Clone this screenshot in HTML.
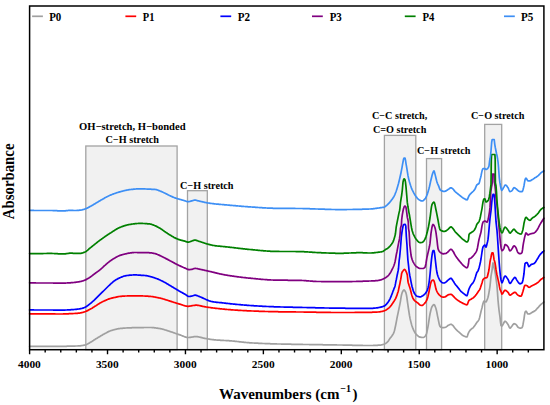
<!DOCTYPE html>
<html><head><meta charset="utf-8"><style>html,body{margin:0;padding:0;background:#fff;width:550px;height:405px;overflow:hidden}svg{display:block}text{font-family:"Liberation Serif",serif;font-weight:bold;fill:#000}</style></head><body>
<svg width="550" height="405" viewBox="0 0 550 405">
<rect x="85.8" y="146" width="91.3" height="203.7" fill="#f1f1f1" stroke="#a3a3a3" stroke-width="1.3"/>
<rect x="187.5" y="190.7" width="19.8" height="159.0" fill="#f1f1f1" stroke="#a3a3a3" stroke-width="1.3"/>
<rect x="384.4" y="135.4" width="31.4" height="214.3" fill="#f1f1f1" stroke="#a3a3a3" stroke-width="1.3"/>
<rect x="426.5" y="158.6" width="15.1" height="191.1" fill="#f1f1f1" stroke="#a3a3a3" stroke-width="1.3"/>
<rect x="484.7" y="124.4" width="17.0" height="225.3" fill="#f1f1f1" stroke="#a3a3a3" stroke-width="1.3"/>
<polyline fill="none" stroke="#a0a0a0" stroke-width="1.7" stroke-linejoin="round" stroke-linecap="round" points="29.6,346.3 30.1,346.3 30.6,346.3 31.1,346.3 31.6,346.3 32.1,346.3 32.6,346.3 33.1,346.3 33.6,346.3 34.1,346.3 34.6,346.3 35.0,346.3 35.5,346.3 36.0,346.3 36.5,346.3 37.0,346.3 37.5,346.3 38.0,346.3 38.5,346.3 39.0,346.3 39.5,346.3 40.0,346.3 40.5,346.3 41.0,346.3 41.5,346.3 42.0,346.3 42.5,346.3 43.0,346.3 43.5,346.3 44.0,346.3 44.5,346.3 45.0,346.3 45.5,346.3 46.0,346.3 46.5,346.3 47.0,346.3 47.5,346.3 48.0,346.3 48.5,346.3 49.0,346.3 49.5,346.3 50.0,346.3 50.5,346.3 51.0,346.3 51.5,346.3 52.0,346.3 52.5,346.3 53.0,346.3 53.5,346.3 54.0,346.3 54.5,346.3 55.0,346.3 55.5,346.3 56.0,346.3 56.5,346.3 57.0,346.3 57.5,346.3 58.0,346.3 58.5,346.3 59.0,346.3 59.5,346.3 60.0,346.3 60.5,346.3 61.0,346.3 61.5,346.3 62.0,346.3 62.5,346.3 63.0,346.3 63.5,346.3 64.0,346.3 64.5,346.3 65.0,346.3 65.5,346.3 66.0,346.3 66.5,346.3 67.0,346.2 67.5,346.2 68.0,346.2 68.5,346.2 69.0,346.2 69.5,346.2 70.0,346.2 70.5,346.2 71.0,346.2 71.5,346.2 72.0,346.2 72.5,346.1 73.0,346.1 73.5,346.1 74.0,346.1 74.5,346.1 75.0,346.1 75.5,346.0 76.0,346.0 76.5,346.0 77.0,346.0 77.5,346.0 78.0,345.9 78.5,345.9 79.0,345.9 79.5,345.8 80.0,345.8 80.5,345.8 81.0,345.7 81.5,345.7 82.0,345.6 82.5,345.5 83.0,345.4 83.5,345.3 84.0,345.2 84.5,345.1 85.0,345.0 85.5,344.9 86.0,344.7 86.5,344.5 87.0,344.2 87.5,344.0 88.0,343.7 88.5,343.4 89.0,343.2 89.5,342.9 90.0,342.6 90.5,342.3 91.0,342.0 91.5,341.7 92.0,341.4 92.5,341.0 93.0,340.7 93.5,340.4 94.0,340.0 94.5,339.7 95.0,339.4 95.5,339.1 96.0,338.8 96.5,338.5 97.0,338.2 97.5,337.9 98.0,337.6 98.5,337.3 99.0,337.0 99.5,336.7 100.0,336.4 100.5,336.1 101.0,335.8 101.5,335.5 102.0,335.2 102.5,334.9 103.0,334.6 103.5,334.3 104.0,334.1 104.5,333.8 105.0,333.5 105.5,333.2 106.0,333.0 106.5,332.7 107.0,332.4 107.5,332.1 108.0,331.9 108.5,331.6 109.0,331.4 109.5,331.2 110.0,331.0 110.5,330.8 111.0,330.6 111.5,330.5 112.0,330.3 112.5,330.2 113.0,330.0 113.5,329.9 114.0,329.7 114.5,329.6 115.0,329.5 115.5,329.4 116.0,329.3 116.5,329.1 117.0,329.0 117.5,328.9 118.0,328.8 118.5,328.7 119.0,328.6 119.5,328.6 120.0,328.5 120.5,328.4 121.0,328.4 121.5,328.3 122.0,328.3 122.5,328.3 123.0,328.2 123.5,328.2 124.0,328.1 124.5,328.1 125.0,328.1 125.5,328.0 126.0,328.0 126.5,328.0 127.0,327.9 127.5,327.9 128.0,327.9 128.5,327.9 129.0,327.8 129.5,327.8 130.0,327.8 130.5,327.8 131.0,327.8 131.5,327.8 132.0,327.7 132.5,327.7 133.0,327.7 133.5,327.7 134.0,327.7 134.5,327.7 135.0,327.7 135.5,327.7 136.0,327.7 136.5,327.7 137.0,327.6 137.5,327.6 138.0,327.6 138.5,327.6 139.0,327.6 139.5,327.6 140.0,327.6 140.5,327.6 141.0,327.6 141.5,327.6 142.0,327.6 142.5,327.6 143.0,327.6 143.5,327.6 144.0,327.5 144.5,327.5 145.0,327.5 145.5,327.5 146.0,327.5 146.5,327.5 147.0,327.5 147.5,327.5 148.0,327.5 148.5,327.5 149.0,327.5 149.5,327.5 150.0,327.5 150.5,327.5 151.0,327.5 151.5,327.5 152.0,327.6 152.5,327.6 153.0,327.6 153.5,327.7 154.0,327.7 154.5,327.8 155.0,327.9 155.5,327.9 156.0,328.0 156.5,328.1 157.0,328.1 157.5,328.2 158.0,328.3 158.5,328.4 159.0,328.4 159.5,328.5 160.0,328.6 160.5,328.7 161.0,328.8 161.5,328.9 162.0,329.0 162.5,329.1 163.0,329.3 163.5,329.4 164.0,329.5 164.5,329.7 165.0,329.9 165.5,330.0 166.0,330.2 166.5,330.3 167.0,330.5 167.5,330.7 168.0,330.8 168.5,331.0 169.0,331.2 169.5,331.3 170.0,331.5 170.5,331.7 171.0,331.8 171.5,332.0 172.0,332.1 172.5,332.3 173.0,332.5 173.5,332.7 174.0,332.8 174.5,333.0 175.0,333.2 175.5,333.4 176.0,333.5 176.5,333.7 177.0,333.9 177.5,334.0 178.0,334.2 178.5,334.4 179.0,334.6 179.5,334.7 180.0,334.9 180.5,335.1 181.0,335.3 181.5,335.5 182.0,335.7 182.5,335.9 183.0,336.1 183.5,336.3 184.0,336.5 184.5,336.7 185.0,336.9 185.5,337.1 186.0,337.2 186.5,337.3 187.0,337.4 187.5,337.5 188.0,337.5 188.5,337.5 189.0,337.5 189.5,337.4 190.0,337.4 190.5,337.3 191.0,337.2 191.5,337.1 192.0,337.1 192.5,337.0 193.0,336.9 193.5,336.8 194.0,336.7 194.5,336.7 195.0,336.6 195.5,336.6 196.0,336.6 196.5,336.6 197.0,336.6 197.5,336.7 198.0,336.8 198.5,336.9 199.0,337.0 199.5,337.1 200.0,337.2 200.5,337.3 201.0,337.4 201.5,337.6 202.0,337.7 202.5,337.8 203.0,338.0 203.5,338.1 204.0,338.2 204.5,338.3 205.0,338.4 205.5,338.5 206.0,338.6 206.5,338.7 207.0,338.7 207.5,338.8 208.0,338.9 208.5,339.0 209.0,339.1 209.5,339.2 210.0,339.3 210.5,339.3 211.0,339.4 211.5,339.5 212.0,339.6 212.5,339.6 213.0,339.7 213.5,339.7 214.0,339.8 214.5,339.9 215.0,339.9 215.5,339.9 216.0,340.0 216.5,340.0 217.0,340.1 217.5,340.1 218.0,340.1 218.5,340.2 219.0,340.2 219.5,340.2 220.0,340.2 220.5,340.3 221.0,340.3 221.5,340.3 222.0,340.4 222.5,340.4 223.0,340.4 223.5,340.4 224.0,340.5 224.5,340.5 225.0,340.5 225.5,340.5 226.0,340.6 226.5,340.6 227.0,340.6 227.5,340.6 228.0,340.7 228.5,340.7 229.0,340.7 229.5,340.8 230.0,340.8 230.5,340.8 231.0,340.9 231.5,340.9 232.0,341.0 232.5,341.0 233.0,341.1 233.5,341.1 234.0,341.2 234.5,341.2 235.0,341.3 235.5,341.3 236.0,341.4 236.5,341.4 237.0,341.5 237.5,341.5 238.0,341.6 238.5,341.7 239.0,341.7 239.5,341.8 240.0,341.8 240.5,341.9 241.0,341.9 241.5,342.0 242.0,342.1 242.5,342.1 243.0,342.2 243.5,342.2 244.0,342.3 244.5,342.3 245.0,342.4 245.5,342.4 246.0,342.5 246.5,342.5 247.0,342.6 247.5,342.6 248.0,342.7 248.5,342.7 249.0,342.7 249.5,342.8 250.0,342.8 250.5,342.8 251.0,342.9 251.5,342.9 252.0,342.9 252.5,343.0 253.0,343.0 253.5,343.0 254.0,343.0 254.5,343.1 255.0,343.1 255.5,343.1 256.0,343.1 256.5,343.2 257.0,343.2 257.5,343.2 258.0,343.2 258.5,343.3 259.0,343.3 259.5,343.3 260.0,343.3 260.5,343.4 261.0,343.4 261.5,343.4 262.0,343.4 262.5,343.5 263.0,343.5 263.5,343.5 264.0,343.5 264.5,343.5 265.0,343.6 265.5,343.6 266.0,343.6 266.5,343.6 267.0,343.6 267.5,343.7 268.0,343.7 268.5,343.7 269.0,343.7 269.5,343.7 270.0,343.7 270.5,343.8 271.0,343.8 271.5,343.8 272.0,343.8 272.5,343.8 273.0,343.8 273.5,343.9 274.0,343.9 274.5,343.9 275.0,343.9 275.5,343.9 276.0,343.9 276.5,343.9 277.0,344.0 277.5,344.0 278.0,344.0 278.5,344.0 279.0,344.0 279.5,344.0 280.0,344.0 280.5,344.0 281.0,344.0 281.5,344.1 282.0,344.1 282.5,344.1 283.0,344.1 283.5,344.1 284.0,344.1 284.5,344.1 285.0,344.1 285.5,344.1 286.0,344.2 286.5,344.2 287.0,344.2 287.5,344.2 288.0,344.2 288.5,344.2 289.0,344.2 289.5,344.2 290.0,344.2 290.5,344.2 291.0,344.2 291.5,344.3 292.0,344.3 292.5,344.3 293.0,344.3 293.5,344.3 294.0,344.3 294.5,344.3 295.0,344.3 295.5,344.3 296.0,344.3 296.5,344.3 297.0,344.3 297.5,344.4 298.0,344.4 298.5,344.4 299.0,344.4 299.5,344.4 300.0,344.4 300.5,344.4 301.0,344.4 301.5,344.4 302.0,344.4 302.5,344.4 303.0,344.5 303.5,344.5 304.0,344.5 304.5,344.5 305.0,344.5 305.5,344.5 306.0,344.5 306.5,344.5 307.0,344.5 307.5,344.5 308.0,344.5 308.5,344.5 309.0,344.5 309.5,344.6 310.0,344.6 310.5,344.6 311.0,344.6 311.5,344.6 312.0,344.6 312.5,344.6 313.0,344.6 313.5,344.6 314.0,344.6 314.5,344.6 315.0,344.6 315.5,344.6 316.0,344.7 316.5,344.7 317.0,344.7 317.5,344.7 318.0,344.7 318.5,344.7 319.0,344.7 319.5,344.7 320.0,344.7 320.5,344.7 321.0,344.7 321.5,344.7 322.0,344.7 322.5,344.7 323.0,344.8 323.5,344.8 324.0,344.8 324.5,344.8 325.0,344.8 325.5,344.8 326.0,344.8 326.5,344.8 327.0,344.8 327.5,344.8 328.0,344.8 328.5,344.8 329.0,344.8 329.5,344.8 330.0,344.8 330.5,344.9 331.0,344.9 331.5,344.9 332.0,344.9 332.5,344.9 333.0,344.9 333.5,344.9 334.0,344.9 334.5,344.9 335.0,344.9 335.5,344.9 336.0,344.9 336.5,344.9 337.0,345.0 337.5,345.0 338.0,345.0 338.5,345.0 339.0,345.0 339.5,345.0 340.0,345.0 340.5,345.0 341.0,345.0 341.5,345.0 342.0,345.0 342.5,345.0 343.0,345.1 343.5,345.1 344.0,345.1 344.5,345.1 345.0,345.1 345.5,345.1 346.0,345.1 346.5,345.1 347.0,345.1 347.5,345.1 348.0,345.2 348.5,345.2 349.0,345.2 349.5,345.2 350.0,345.2 350.5,345.2 351.0,345.2 351.5,345.2 352.0,345.2 352.5,345.3 353.0,345.3 353.5,345.3 354.0,345.3 354.5,345.3 355.0,345.3 355.5,345.3 356.0,345.3 356.5,345.3 357.0,345.4 357.5,345.4 358.0,345.4 358.5,345.4 359.0,345.4 359.5,345.4 360.0,345.4 360.5,345.4 361.0,345.4 361.5,345.4 362.0,345.4 362.5,345.4 363.0,345.5 363.5,345.5 364.0,345.5 364.5,345.5 365.0,345.5 365.5,345.5 366.0,345.5 366.5,345.5 367.0,345.5 367.5,345.5 368.0,345.5 368.5,345.5 369.0,345.5 369.5,345.5 370.0,345.5 370.5,345.5 371.0,345.5 371.5,345.5 372.0,345.5 372.5,345.5 373.0,345.5 373.5,345.4 374.0,345.4 374.5,345.4 375.0,345.4 375.5,345.4 376.0,345.3 376.5,345.3 377.0,345.3 377.5,345.3 378.0,345.2 378.5,345.2 379.0,345.2 379.5,345.1 380.0,345.1 380.5,345.1 381.0,345.0 381.5,344.9 382.0,344.8 382.5,344.6 383.0,344.5 383.5,344.4 384.0,344.2 384.5,344.0 385.0,343.8 385.5,343.5 386.0,343.2 386.5,342.8 387.0,342.4 387.5,341.9 388.0,341.4 388.5,340.7 389.0,339.9 389.5,339.1 390.0,338.3 390.5,337.7 391.0,337.1 391.5,336.5 392.0,335.8 392.5,335.0 393.0,334.2 393.5,333.3 394.0,332.1 394.5,330.5 395.0,328.3 395.5,326.0 396.0,323.5 396.5,320.8 397.0,318.2 397.5,315.7 398.0,313.3 398.5,310.9 399.0,308.5 399.5,306.1 400.0,303.6 400.5,300.8 401.0,297.7 401.5,295.0 402.0,293.1 402.5,291.9 403.0,290.9 403.5,290.2 404.0,289.9 404.5,290.2 405.0,290.9 405.5,291.9 406.0,293.1 406.5,295.2 407.0,298.5 407.5,302.2 408.0,305.7 408.5,309.0 409.0,312.4 409.5,315.5 410.0,318.2 410.5,320.4 411.0,322.4 411.5,324.3 412.0,326.0 412.5,327.4 413.0,328.7 413.5,329.8 414.0,330.9 414.5,331.8 415.0,332.7 415.5,333.4 416.0,334.0 416.5,334.5 417.0,335.1 417.5,335.5 418.0,336.0 418.5,336.4 419.0,336.7 419.5,336.9 420.0,337.1 420.5,337.2 421.0,337.3 421.5,337.4 422.0,337.4 422.5,337.5 423.0,337.5 423.5,337.4 424.0,337.2 424.5,336.8 425.0,336.3 425.5,335.7 426.0,335.0 426.5,333.8 427.0,331.7 427.5,329.2 428.0,326.6 428.5,323.6 429.0,320.2 429.5,316.8 430.0,314.0 430.5,311.7 431.0,309.6 431.5,307.9 432.0,306.7 432.5,305.9 433.0,305.2 433.5,304.8 434.0,304.6 434.5,305.0 435.0,306.0 435.5,307.3 436.0,308.8 436.5,310.7 437.0,313.1 437.5,315.8 438.0,318.2 438.5,320.6 439.0,323.1 439.5,325.2 440.0,326.4 440.5,326.9 441.0,327.3 441.5,327.5 442.0,327.6 442.5,327.6 443.0,327.6 443.5,327.6 444.0,327.6 444.5,327.5 445.0,327.4 445.5,327.2 446.0,327.0 446.5,326.7 447.0,326.3 447.5,325.8 448.0,325.5 448.5,325.2 449.0,325.0 449.5,324.7 450.0,324.5 450.5,324.4 451.0,324.3 451.5,324.4 452.0,324.8 452.5,325.2 453.0,325.7 453.5,326.2 454.0,326.9 454.5,327.6 455.0,328.2 455.5,328.8 456.0,329.3 456.5,329.9 457.0,330.4 457.5,330.9 458.0,331.3 458.5,331.7 459.0,332.2 459.5,332.6 460.0,333.0 460.5,333.5 461.0,334.0 461.5,334.4 462.0,334.9 462.5,335.3 463.0,335.6 463.5,335.8 464.0,336.1 464.5,336.3 465.0,336.5 465.5,336.7 466.0,336.8 466.5,336.9 467.0,336.9 467.5,335.8 468.0,334.1 468.5,332.9 469.0,331.9 469.5,331.1 470.0,330.4 470.5,329.8 471.0,329.3 471.5,328.9 472.0,328.6 472.5,328.2 473.0,327.8 473.5,327.3 474.0,326.6 474.5,325.9 475.0,325.2 475.5,324.5 476.0,323.7 476.5,322.9 477.0,322.2 477.5,321.6 478.0,321.1 478.5,320.4 479.0,319.6 479.5,318.0 480.0,315.9 480.5,313.7 481.0,311.5 481.5,309.6 482.0,307.8 482.5,305.5 483.0,303.5 483.5,301.9 484.0,301.0 484.5,301.2 485.0,301.5 485.5,301.8 486.0,302.0 486.5,301.3 487.0,300.0 487.5,298.8 488.0,297.3 488.5,295.1 489.0,292.4 489.5,289.5 490.0,286.1 490.5,281.0 491.0,276.1 491.5,273.3 492.0,270.6 492.5,265.9 493.0,262.8 493.5,264.4 494.0,267.2 494.5,269.3 495.0,271.7 495.5,274.8 496.0,278.3 496.5,281.8 497.0,286.1 497.5,292.8 498.0,300.0 498.5,305.4 499.0,310.0 499.5,313.7 500.0,317.2 500.5,322.2 501.0,325.5 501.5,325.9 502.0,326.0 502.5,325.4 503.0,324.4 503.5,323.5 504.0,322.5 504.5,321.6 505.0,321.3 505.5,321.4 506.0,321.8 506.5,322.4 507.0,323.1 507.5,323.8 508.0,324.5 508.5,325.4 509.0,326.6 509.5,327.7 510.0,328.1 510.5,327.9 511.0,327.3 511.5,326.6 512.0,326.0 512.5,325.3 513.0,324.6 513.5,324.0 514.0,323.7 514.5,323.8 515.0,323.9 515.5,324.2 516.0,324.5 516.5,325.0 517.0,325.8 517.5,326.6 518.0,327.2 518.5,327.5 519.0,327.8 519.5,328.0 520.0,328.1 520.5,328.1 521.0,328.0 521.5,327.9 522.0,327.7 522.5,326.7 523.0,324.5 523.5,321.7 524.0,318.8 524.5,315.2 525.0,312.4 525.5,311.5 526.0,311.2 526.5,311.6 527.0,312.6 527.5,313.6 528.0,314.0 528.5,314.0 529.0,313.9 529.5,313.8 530.0,313.7 530.5,313.5 531.0,313.1 531.5,312.7 532.0,312.4 532.5,312.1 533.0,311.9 533.5,311.6 534.0,311.4 534.5,311.1 535.0,310.8 535.5,310.4 536.0,309.9 536.5,309.3 537.0,308.7 537.5,308.2 538.0,307.6 538.5,307.1 539.0,306.5 539.5,305.9 540.0,305.4 540.5,304.9 541.0,304.4 541.5,304.0 542.0,303.6 542.5,303.2 542.9,302.8 543.4,302.4 543.9,302.0"/>
<polyline fill="none" stroke="#ff0000" stroke-width="1.7" stroke-linejoin="round" stroke-linecap="round" points="29.6,313.8 30.1,313.8 30.6,313.8 31.1,313.8 31.6,313.8 32.1,313.8 32.6,313.8 33.1,313.8 33.6,313.8 34.1,313.9 34.6,313.9 35.0,313.9 35.5,313.9 36.0,313.9 36.5,313.9 37.0,313.9 37.5,313.9 38.0,313.9 38.5,313.9 39.0,313.9 39.5,313.9 40.0,313.9 40.5,313.9 41.0,313.9 41.5,313.9 42.0,313.9 42.5,313.9 43.0,313.9 43.5,313.9 44.0,313.9 44.5,313.9 45.0,313.9 45.5,313.9 46.0,313.9 46.5,313.9 47.0,313.9 47.5,313.9 48.0,313.9 48.5,313.9 49.0,313.9 49.5,313.9 50.0,313.9 50.5,313.9 51.0,313.9 51.5,313.9 52.0,313.9 52.5,313.9 53.0,313.9 53.5,313.9 54.0,313.9 54.5,313.9 55.0,313.9 55.5,314.0 56.0,314.0 56.5,314.0 57.0,314.0 57.5,314.0 58.0,314.0 58.5,314.0 59.0,314.0 59.5,314.0 60.0,314.0 60.5,314.0 61.0,314.0 61.5,314.0 62.0,314.0 62.5,314.0 63.0,314.0 63.5,313.9 64.0,313.9 64.5,313.9 65.0,313.9 65.5,313.9 66.0,313.9 66.5,313.8 67.0,313.8 67.5,313.8 68.0,313.8 68.5,313.8 69.0,313.7 69.5,313.7 70.0,313.7 70.5,313.7 71.0,313.7 71.5,313.6 72.0,313.6 72.5,313.6 73.0,313.6 73.5,313.5 74.0,313.5 74.5,313.5 75.0,313.4 75.5,313.4 76.0,313.4 76.5,313.3 77.0,313.3 77.5,313.3 78.0,313.2 78.5,313.2 79.0,313.1 79.5,313.1 80.0,313.0 80.5,312.9 81.0,312.8 81.5,312.7 82.0,312.6 82.5,312.5 83.0,312.3 83.5,312.2 84.0,312.0 84.5,311.9 85.0,311.7 85.5,311.5 86.0,311.3 86.5,311.1 87.0,310.9 87.5,310.6 88.0,310.4 88.5,310.1 89.0,309.8 89.5,309.6 90.0,309.3 90.5,309.0 91.0,308.7 91.5,308.5 92.0,308.2 92.5,307.9 93.0,307.5 93.5,307.2 94.0,306.9 94.5,306.6 95.0,306.3 95.5,306.0 96.0,305.7 96.5,305.3 97.0,305.0 97.5,304.7 98.0,304.3 98.5,304.0 99.0,303.7 99.5,303.4 100.0,303.1 100.5,302.8 101.0,302.6 101.5,302.3 102.0,302.0 102.5,301.8 103.0,301.5 103.5,301.3 104.0,301.1 104.5,300.8 105.0,300.6 105.5,300.4 106.0,300.2 106.5,299.9 107.0,299.7 107.5,299.5 108.0,299.3 108.5,299.1 109.0,298.9 109.5,298.8 110.0,298.6 110.5,298.5 111.0,298.3 111.5,298.2 112.0,298.1 112.5,297.9 113.0,297.8 113.5,297.7 114.0,297.6 114.5,297.5 115.0,297.4 115.5,297.3 116.0,297.2 116.5,297.1 117.0,296.9 117.5,296.8 118.0,296.7 118.5,296.6 119.0,296.5 119.5,296.5 120.0,296.4 120.5,296.4 121.0,296.3 121.5,296.3 122.0,296.2 122.5,296.2 123.0,296.2 123.5,296.1 124.0,296.1 124.5,296.1 125.0,296.0 125.5,296.0 126.0,296.0 126.5,296.0 127.0,296.0 127.5,295.9 128.0,295.9 128.5,295.9 129.0,295.9 129.5,295.9 130.0,295.9 130.5,295.9 131.0,295.9 131.5,295.9 132.0,295.9 132.5,295.9 133.0,295.9 133.5,295.9 134.0,295.9 134.5,295.9 135.0,295.9 135.5,295.9 136.0,295.9 136.5,295.9 137.0,295.9 137.5,295.9 138.0,295.9 138.5,295.9 139.0,295.9 139.5,295.9 140.0,295.9 140.5,295.9 141.0,295.9 141.5,295.9 142.0,295.9 142.5,295.9 143.0,296.0 143.5,296.0 144.0,296.0 144.5,296.0 145.0,296.1 145.5,296.1 146.0,296.1 146.5,296.1 147.0,296.2 147.5,296.2 148.0,296.2 148.5,296.3 149.0,296.3 149.5,296.4 150.0,296.4 150.5,296.4 151.0,296.5 151.5,296.5 152.0,296.6 152.5,296.7 153.0,296.7 153.5,296.8 154.0,296.9 154.5,297.0 155.0,297.1 155.5,297.2 156.0,297.3 156.5,297.4 157.0,297.5 157.5,297.6 158.0,297.7 158.5,297.8 159.0,297.9 159.5,298.0 160.0,298.1 160.5,298.2 161.0,298.3 161.5,298.5 162.0,298.6 162.5,298.7 163.0,298.9 163.5,299.0 164.0,299.2 164.5,299.3 165.0,299.5 165.5,299.7 166.0,299.8 166.5,300.0 167.0,300.1 167.5,300.3 168.0,300.5 168.5,300.6 169.0,300.8 169.5,300.9 170.0,301.1 170.5,301.3 171.0,301.4 171.5,301.6 172.0,301.7 172.5,301.9 173.0,302.0 173.5,302.2 174.0,302.4 174.5,302.5 175.0,302.7 175.5,302.8 176.0,303.0 176.5,303.2 177.0,303.3 177.5,303.5 178.0,303.6 178.5,303.8 179.0,303.9 179.5,304.1 180.0,304.2 180.5,304.3 181.0,304.5 181.5,304.7 182.0,304.8 182.5,305.0 183.0,305.2 183.5,305.4 184.0,305.5 184.5,305.7 185.0,305.8 185.5,306.0 186.0,306.1 186.5,306.2 187.0,306.2 187.5,306.3 188.0,306.3 188.5,306.3 189.0,306.2 189.5,306.2 190.0,306.1 190.5,306.0 191.0,305.9 191.5,305.8 192.0,305.7 192.5,305.6 193.0,305.5 193.5,305.5 194.0,305.4 194.5,305.3 195.0,305.3 195.5,305.2 196.0,305.2 196.5,305.2 197.0,305.2 197.5,305.3 198.0,305.3 198.5,305.4 199.0,305.5 199.5,305.6 200.0,305.7 200.5,305.8 201.0,305.9 201.5,306.1 202.0,306.2 202.5,306.3 203.0,306.4 203.5,306.5 204.0,306.6 204.5,306.7 205.0,306.8 205.5,306.9 206.0,307.0 206.5,307.0 207.0,307.1 207.5,307.2 208.0,307.3 208.5,307.3 209.0,307.4 209.5,307.5 210.0,307.5 210.5,307.6 211.0,307.7 211.5,307.8 212.0,307.8 212.5,307.9 213.0,308.0 213.5,308.0 214.0,308.1 214.5,308.1 215.0,308.2 215.5,308.3 216.0,308.3 216.5,308.4 217.0,308.4 217.5,308.5 218.0,308.5 218.5,308.6 219.0,308.7 219.5,308.7 220.0,308.8 220.5,308.8 221.0,308.9 221.5,308.9 222.0,309.0 222.5,309.0 223.0,309.1 223.5,309.1 224.0,309.2 224.5,309.2 225.0,309.3 225.5,309.3 226.0,309.4 226.5,309.4 227.0,309.5 227.5,309.5 228.0,309.5 228.5,309.6 229.0,309.6 229.5,309.7 230.0,309.7 230.5,309.7 231.0,309.8 231.5,309.8 232.0,309.8 232.5,309.9 233.0,309.9 233.5,310.0 234.0,310.0 234.5,310.0 235.0,310.1 235.5,310.1 236.0,310.1 236.5,310.2 237.0,310.2 237.5,310.2 238.0,310.3 238.5,310.3 239.0,310.3 239.5,310.4 240.0,310.4 240.5,310.4 241.0,310.4 241.5,310.5 242.0,310.5 242.5,310.5 243.0,310.6 243.5,310.6 244.0,310.6 244.5,310.6 245.0,310.7 245.5,310.7 246.0,310.7 246.5,310.7 247.0,310.8 247.5,310.8 248.0,310.8 248.5,310.8 249.0,310.9 249.5,310.9 250.0,310.9 250.5,310.9 251.0,310.9 251.5,311.0 252.0,311.0 252.5,311.0 253.0,311.0 253.5,311.0 254.0,311.1 254.5,311.1 255.0,311.1 255.5,311.1 256.0,311.1 256.5,311.2 257.0,311.2 257.5,311.2 258.0,311.2 258.5,311.2 259.0,311.3 259.5,311.3 260.0,311.3 260.5,311.3 261.0,311.3 261.5,311.3 262.0,311.4 262.5,311.4 263.0,311.4 263.5,311.4 264.0,311.4 264.5,311.4 265.0,311.5 265.5,311.5 266.0,311.5 266.5,311.5 267.0,311.5 267.5,311.5 268.0,311.5 268.5,311.6 269.0,311.6 269.5,311.6 270.0,311.6 270.5,311.6 271.0,311.6 271.5,311.6 272.0,311.6 272.5,311.7 273.0,311.7 273.5,311.7 274.0,311.7 274.5,311.7 275.0,311.7 275.5,311.7 276.0,311.7 276.5,311.7 277.0,311.7 277.5,311.7 278.0,311.7 278.5,311.8 279.0,311.8 279.5,311.8 280.0,311.8 280.5,311.8 281.0,311.8 281.5,311.8 282.0,311.8 282.5,311.8 283.0,311.8 283.5,311.8 284.0,311.8 284.5,311.8 285.0,311.8 285.5,311.8 286.0,311.9 286.5,311.9 287.0,311.9 287.5,311.9 288.0,311.9 288.5,311.9 289.0,311.9 289.5,311.9 290.0,311.9 290.5,311.9 291.0,311.9 291.5,311.9 292.0,311.9 292.5,311.9 293.0,311.9 293.5,311.9 294.0,311.9 294.5,311.9 295.0,311.9 295.5,311.9 296.0,312.0 296.5,312.0 297.0,312.0 297.5,312.0 298.0,312.0 298.5,312.0 299.0,312.0 299.5,312.0 300.0,312.0 300.5,312.0 301.0,312.0 301.5,312.0 302.0,312.0 302.5,312.0 303.0,312.0 303.5,312.0 304.0,312.1 304.5,312.1 305.0,312.1 305.5,312.1 306.0,312.1 306.5,312.1 307.0,312.1 307.5,312.1 308.0,312.1 308.5,312.1 309.0,312.1 309.5,312.1 310.0,312.1 310.5,312.2 311.0,312.2 311.5,312.2 312.0,312.2 312.5,312.2 313.0,312.2 313.5,312.2 314.0,312.2 314.5,312.2 315.0,312.2 315.5,312.2 316.0,312.2 316.5,312.3 317.0,312.3 317.5,312.3 318.0,312.3 318.5,312.3 319.0,312.3 319.5,312.3 320.0,312.3 320.5,312.3 321.0,312.3 321.5,312.3 322.0,312.3 322.5,312.3 323.0,312.4 323.5,312.4 324.0,312.4 324.5,312.4 325.0,312.4 325.5,312.4 326.0,312.4 326.5,312.4 327.0,312.4 327.5,312.4 328.0,312.4 328.5,312.4 329.0,312.4 329.5,312.4 330.0,312.4 330.5,312.4 331.0,312.5 331.5,312.5 332.0,312.5 332.5,312.5 333.0,312.5 333.5,312.5 334.0,312.5 334.5,312.5 335.0,312.5 335.5,312.5 336.0,312.5 336.5,312.5 337.0,312.5 337.5,312.5 338.0,312.5 338.5,312.5 339.0,312.5 339.5,312.5 340.0,312.5 340.5,312.5 341.0,312.5 341.5,312.5 342.0,312.5 342.5,312.5 343.0,312.5 343.5,312.5 344.0,312.5 344.5,312.5 345.0,312.5 345.5,312.5 346.0,312.5 346.5,312.5 347.0,312.5 347.5,312.5 348.0,312.5 348.5,312.5 349.0,312.5 349.5,312.5 350.0,312.5 350.5,312.5 351.0,312.5 351.5,312.5 352.0,312.5 352.5,312.5 353.0,312.5 353.5,312.5 354.0,312.5 354.5,312.5 355.0,312.4 355.5,312.4 356.0,312.4 356.5,312.4 357.0,312.4 357.5,312.4 358.0,312.4 358.5,312.4 359.0,312.4 359.5,312.4 360.0,312.4 360.5,312.4 361.0,312.4 361.5,312.4 362.0,312.4 362.5,312.4 363.0,312.4 363.5,312.4 364.0,312.4 364.5,312.4 365.0,312.4 365.5,312.4 366.0,312.3 366.5,312.3 367.0,312.3 367.5,312.3 368.0,312.3 368.5,312.3 369.0,312.3 369.5,312.3 370.0,312.3 370.5,312.3 371.0,312.3 371.5,312.3 372.0,312.3 372.5,312.2 373.0,312.2 373.5,312.2 374.0,312.2 374.5,312.2 375.0,312.2 375.5,312.1 376.0,312.1 376.5,312.1 377.0,312.1 377.5,312.0 378.0,312.0 378.5,312.0 379.0,311.9 379.5,311.8 380.0,311.8 380.5,311.7 381.0,311.6 381.5,311.5 382.0,311.4 382.5,311.3 383.0,311.2 383.5,311.0 384.0,310.9 384.5,310.7 385.0,310.5 385.5,310.3 386.0,310.0 386.5,309.7 387.0,309.3 387.5,309.0 388.0,308.6 388.5,308.2 389.0,307.8 389.5,307.3 390.0,306.8 390.5,306.2 391.0,305.6 391.5,305.0 392.0,304.3 392.5,303.6 393.0,302.8 393.5,302.0 394.0,301.2 394.5,300.5 394.9,299.7 395.4,298.9 395.9,298.0 396.3,296.9 396.8,295.7 397.2,294.4 397.6,293.1 398.1,291.7 398.5,290.1 398.9,288.0 399.4,285.7 399.9,283.6 400.3,281.4 400.7,279.4 401.1,277.1 401.6,273.6 402.1,272.3 402.5,271.5 402.9,271.0 403.3,270.6 403.9,269.8 404.4,269.4 405.0,269.8 405.6,270.6 406.1,271.6 406.7,273.0 407.3,275.0 407.9,281.0 408.3,283.0 408.8,284.5 409.2,285.8 409.8,287.6 410.4,289.5 411.0,292.0 411.6,294.4 412.0,295.8 412.5,297.1 412.9,298.1 413.4,299.1 414.0,299.9 414.5,300.5 415.0,301.0 415.5,301.4 416.0,301.7 416.5,302.0 417.0,302.4 417.5,302.7 418.0,303.1 418.5,303.6 419.0,304.2 419.5,304.7 420.0,305.0 420.5,305.2 421.0,305.3 421.5,305.5 422.0,305.5 422.5,305.4 423.0,305.0 423.5,304.5 424.0,304.0 424.5,303.5 425.0,302.9 425.5,302.2 426.0,301.4 426.5,300.5 427.0,299.5 427.5,298.1 428.0,296.2 428.5,294.0 429.0,291.7 429.5,289.2 430.0,286.6 430.5,284.1 431.0,282.2 431.5,281.1 432.0,280.5 432.5,280.2 433.0,280.0 433.5,280.3 434.0,281.0 434.5,282.6 435.0,284.8 435.5,287.0 436.0,289.1 436.5,290.5 437.0,291.7 437.5,292.6 438.0,293.4 438.5,294.0 439.0,294.6 439.5,295.1 440.0,295.5 440.5,296.0 441.0,296.4 441.5,296.8 442.0,297.0 442.5,297.0 443.0,297.1 443.5,297.1 444.0,297.1 444.5,297.0 445.0,296.9 445.5,296.6 446.0,296.4 446.5,296.1 447.0,295.6 447.5,295.2 448.0,294.9 448.5,294.7 449.0,294.6 449.5,294.5 450.0,294.4 450.5,294.3 451.0,294.3 451.5,294.5 452.0,294.9 452.5,295.4 453.0,295.9 453.5,296.4 454.0,296.9 454.5,297.5 455.0,298.0 455.5,298.4 456.0,298.9 456.5,299.3 457.0,299.7 457.5,300.0 458.0,300.4 458.5,300.7 459.0,301.1 459.5,301.4 460.0,301.7 460.5,302.0 461.0,302.3 461.5,302.6 462.0,302.8 462.5,303.1 463.0,303.4 463.5,303.6 464.0,303.8 464.5,304.0 465.0,304.2 465.5,304.5 466.0,304.6 466.5,304.8 467.0,304.8 467.5,304.2 468.0,302.8 468.5,301.4 469.0,300.4 469.5,300.0 470.0,299.7 470.5,299.5 471.0,299.2 471.5,298.9 472.0,298.6 472.5,298.3 473.0,298.0 473.5,297.6 474.0,297.1 474.5,296.6 475.0,296.1 475.5,295.5 476.0,294.9 476.5,294.3 477.0,293.6 477.5,292.8 478.0,292.0 478.5,291.3 479.0,290.6 479.5,289.9 480.0,289.0 480.5,287.6 481.0,286.0 481.5,284.5 482.0,283.0 482.5,281.1 483.0,279.6 483.5,279.0 484.0,278.5 484.5,278.2 485.0,278.0 485.5,277.9 486.0,277.8 486.5,277.7 487.0,277.5 487.5,276.2 488.0,274.0 488.5,272.0 489.0,269.5 489.5,265.8 490.0,262.0 490.5,259.4 491.0,257.2 491.5,254.4 492.0,252.8 492.5,252.8 493.0,252.8 493.5,255.5 494.0,259.4 494.5,261.1 495.0,262.8 495.5,265.9 496.0,269.4 496.5,272.3 497.0,275.0 497.5,277.3 498.0,279.4 498.5,281.6 499.0,283.9 499.5,286.9 500.0,289.4 500.5,290.5 501.0,291.4 501.5,293.0 502.0,294.0 502.5,293.7 503.0,293.0 503.5,292.1 504.0,291.3 504.5,290.6 505.0,290.3 505.5,290.4 506.0,290.6 506.5,290.9 507.0,291.4 507.5,291.8 508.0,292.3 508.5,293.0 509.0,294.0 509.5,294.8 510.0,295.2 510.5,295.1 511.0,294.8 511.5,294.4 512.0,294.0 512.5,293.5 513.0,293.2 513.5,292.9 514.0,292.6 514.5,292.4 515.0,292.3 515.5,292.5 516.0,292.9 516.5,293.6 517.0,294.2 517.5,294.8 518.0,295.2 518.5,295.4 519.0,295.7 519.5,295.9 520.0,296.1 520.5,296.2 521.0,296.2 521.5,295.7 522.0,294.4 522.5,292.8 523.0,291.3 523.5,289.6 524.0,287.6 524.5,286.0 525.0,285.3 525.5,285.3 526.0,285.4 526.5,285.5 527.0,285.7 527.5,286.0 528.0,286.6 528.5,287.1 529.0,287.3 529.5,287.2 530.0,287.0 530.5,286.7 531.0,286.3 531.5,286.0 532.0,285.7 532.5,285.5 533.0,285.2 533.5,285.0 534.0,284.8 534.5,284.6 535.0,284.3 535.5,284.0 536.0,283.7 536.5,283.4 537.0,283.1 537.5,282.8 538.0,282.4 538.5,282.0 539.0,281.5 539.5,280.9 540.0,280.4 540.5,279.9 541.0,279.4 541.5,279.0 542.0,278.7 542.5,278.4 542.9,278.0 543.4,277.7 543.9,277.4"/>
<polyline fill="none" stroke="#0000ff" stroke-width="1.7" stroke-linejoin="round" stroke-linecap="round" points="29.6,309.9 30.1,309.9 30.6,309.9 31.1,309.9 31.6,309.9 32.1,309.9 32.6,309.9 33.1,309.9 33.6,309.9 34.1,310.0 34.6,310.0 35.0,310.0 35.5,310.0 36.0,310.0 36.5,310.0 37.0,310.0 37.5,310.0 38.0,310.0 38.5,310.0 39.0,310.0 39.5,310.0 40.0,310.0 40.5,310.0 41.0,310.0 41.5,310.0 42.0,310.0 42.5,310.0 43.0,310.0 43.5,310.0 44.0,310.0 44.5,310.0 45.0,310.0 45.5,310.0 46.0,310.0 46.5,310.0 47.0,310.0 47.5,310.0 48.0,310.0 48.5,310.0 49.0,310.0 49.5,310.0 50.0,310.0 50.5,310.0 51.0,310.0 51.5,310.0 52.0,310.0 52.5,310.0 53.0,310.0 53.5,310.1 54.0,310.1 54.5,310.1 55.0,310.1 55.5,310.1 56.0,310.1 56.5,310.1 57.0,310.2 57.5,310.2 58.0,310.2 58.5,310.2 59.0,310.2 59.5,310.2 60.0,310.2 60.5,310.2 61.0,310.2 61.5,310.2 62.0,310.2 62.5,310.2 63.0,310.1 63.5,310.1 64.0,310.1 64.5,310.1 65.0,310.1 65.5,310.0 66.0,310.0 66.5,310.0 67.0,310.0 67.5,309.9 68.0,309.9 68.5,309.9 69.0,309.9 69.5,309.8 70.0,309.8 70.5,309.8 71.0,309.7 71.5,309.7 72.0,309.7 72.5,309.6 73.0,309.6 73.5,309.6 74.0,309.5 74.5,309.5 75.0,309.4 75.5,309.4 76.0,309.3 76.5,309.3 77.0,309.2 77.5,309.2 78.0,309.1 78.5,309.0 79.0,309.0 79.5,308.9 80.0,308.8 80.5,308.7 81.0,308.6 81.5,308.5 82.0,308.4 82.5,308.2 83.0,308.1 83.5,307.9 84.0,307.7 84.5,307.5 85.0,307.3 85.5,307.1 86.0,306.8 86.5,306.5 87.0,306.1 87.5,305.8 88.0,305.4 88.5,305.0 89.0,304.6 89.5,304.2 90.0,303.8 90.5,303.4 91.0,303.0 91.5,302.6 92.0,302.1 92.5,301.7 93.0,301.2 93.5,300.8 94.0,300.3 94.5,299.9 95.0,299.4 95.5,298.9 96.0,298.4 96.5,297.9 97.0,297.4 97.5,296.9 98.0,296.4 98.5,295.9 99.0,295.4 99.5,294.9 100.0,294.4 100.5,293.9 101.0,293.4 101.5,292.9 102.0,292.4 102.5,291.9 103.0,291.5 103.5,291.0 104.0,290.5 104.5,290.0 105.0,289.5 105.5,289.0 106.0,288.5 106.5,288.0 107.0,287.5 107.5,287.0 108.0,286.5 108.5,286.0 109.0,285.5 109.5,285.1 110.0,284.6 110.5,284.1 111.0,283.7 111.5,283.2 112.0,282.8 112.5,282.3 113.0,281.9 113.5,281.5 114.0,281.1 114.5,280.7 115.0,280.4 115.5,280.1 116.0,279.8 116.5,279.5 117.0,279.2 117.5,278.9 118.0,278.6 118.5,278.4 119.0,278.2 119.5,277.9 120.0,277.7 120.5,277.5 121.0,277.3 121.5,277.1 122.0,276.9 122.5,276.7 123.0,276.5 123.5,276.3 124.0,276.1 124.5,276.0 125.0,275.9 125.5,275.8 126.0,275.7 126.5,275.6 127.0,275.5 127.5,275.5 128.0,275.4 128.5,275.3 129.0,275.3 129.5,275.2 130.0,275.2 130.5,275.2 131.0,275.1 131.5,275.1 132.0,275.0 132.5,275.0 133.0,275.0 133.5,274.9 134.0,274.9 134.5,274.9 135.0,274.9 135.5,274.9 136.0,274.9 136.5,274.9 137.0,275.0 137.5,275.0 138.0,275.1 138.5,275.1 139.0,275.1 139.5,275.2 140.0,275.2 140.5,275.2 141.0,275.3 141.5,275.3 142.0,275.3 142.5,275.3 143.0,275.4 143.5,275.4 144.0,275.4 144.5,275.5 145.0,275.5 145.5,275.6 146.0,275.6 146.5,275.7 147.0,275.8 147.5,275.9 148.0,276.0 148.5,276.1 149.0,276.3 149.5,276.4 150.0,276.5 150.5,276.6 151.0,276.8 151.5,276.9 152.0,277.0 152.5,277.2 153.0,277.3 153.5,277.5 154.0,277.7 154.5,277.8 155.0,278.0 155.5,278.2 156.0,278.4 156.5,278.5 157.0,278.7 157.5,278.9 158.0,279.1 158.5,279.3 159.0,279.6 159.5,279.8 160.0,280.0 160.5,280.2 161.0,280.5 161.5,280.7 162.0,280.9 162.5,281.2 163.0,281.4 163.5,281.7 164.0,282.0 164.5,282.2 165.0,282.5 165.5,282.8 166.0,283.1 166.5,283.4 167.0,283.7 167.5,284.0 168.0,284.3 168.5,284.6 169.0,284.9 169.5,285.2 170.0,285.5 170.5,285.8 171.0,286.1 171.5,286.4 172.0,286.7 172.5,287.0 173.0,287.3 173.5,287.6 174.0,287.9 174.5,288.2 175.0,288.5 175.5,288.8 176.0,289.1 176.5,289.4 177.0,289.7 177.5,290.0 178.0,290.3 178.5,290.6 179.0,290.9 179.5,291.2 180.0,291.5 180.5,291.8 181.0,292.1 181.5,292.3 182.0,292.6 182.5,292.9 183.0,293.1 183.5,293.4 184.0,293.7 184.5,293.9 185.0,294.2 185.5,294.5 186.0,294.9 186.5,295.3 187.0,295.6 187.5,296.0 188.0,296.2 188.5,296.4 189.0,296.5 189.5,296.5 190.0,296.4 190.5,296.3 191.0,296.2 191.5,296.1 192.0,296.0 192.5,295.9 193.0,295.7 193.5,295.5 194.0,295.4 194.5,295.2 195.0,295.2 195.5,295.2 196.0,295.3 196.5,295.4 197.0,295.6 197.5,295.8 198.0,296.0 198.5,296.2 199.0,296.4 199.5,296.6 200.0,296.8 200.5,297.0 201.0,297.2 201.5,297.4 202.0,297.6 202.5,297.9 203.0,298.1 203.5,298.3 204.0,298.6 204.5,298.8 205.0,299.0 205.5,299.2 206.0,299.5 206.5,299.7 207.0,299.9 207.5,300.1 208.0,300.4 208.5,300.6 209.0,300.8 209.5,301.0 210.0,301.1 210.5,301.2 211.0,301.4 211.5,301.5 212.0,301.6 212.5,301.7 213.0,301.8 213.5,301.9 214.0,302.0 214.5,302.0 215.0,302.1 215.5,302.2 216.0,302.2 216.5,302.3 217.0,302.3 217.5,302.4 218.0,302.4 218.5,302.5 219.0,302.5 219.5,302.6 220.0,302.6 220.5,302.7 221.0,302.7 221.5,302.7 222.0,302.8 222.5,302.9 223.0,302.9 223.5,303.0 224.0,303.0 224.5,303.1 225.0,303.1 225.5,303.2 226.0,303.3 226.5,303.3 227.0,303.4 227.5,303.4 228.0,303.5 228.5,303.5 229.0,303.6 229.5,303.6 230.0,303.7 230.5,303.8 231.0,303.8 231.5,303.9 232.0,303.9 232.5,304.0 233.0,304.0 233.5,304.1 234.0,304.1 234.5,304.2 235.0,304.2 235.5,304.3 236.0,304.3 236.5,304.4 237.0,304.4 237.5,304.5 238.0,304.5 238.5,304.5 239.0,304.6 239.5,304.6 240.0,304.7 240.5,304.7 241.0,304.8 241.5,304.8 242.0,304.9 242.5,304.9 243.0,305.0 243.5,305.0 244.0,305.0 244.5,305.1 245.0,305.1 245.5,305.2 246.0,305.2 246.5,305.2 247.0,305.3 247.5,305.3 248.0,305.4 248.5,305.4 249.0,305.4 249.5,305.5 250.0,305.5 250.5,305.5 251.0,305.6 251.5,305.6 252.0,305.6 252.5,305.7 253.0,305.7 253.5,305.7 254.0,305.8 254.5,305.8 255.0,305.8 255.5,305.9 256.0,305.9 256.5,305.9 257.0,305.9 257.5,306.0 258.0,306.0 258.5,306.0 259.0,306.1 259.5,306.1 260.0,306.1 260.5,306.1 261.0,306.2 261.5,306.2 262.0,306.2 262.5,306.3 263.0,306.3 263.5,306.3 264.0,306.3 264.5,306.4 265.0,306.4 265.5,306.4 266.0,306.4 266.5,306.5 267.0,306.5 267.5,306.5 268.0,306.5 268.5,306.5 269.0,306.6 269.5,306.6 270.0,306.6 270.5,306.6 271.0,306.7 271.5,306.7 272.0,306.7 272.5,306.7 273.0,306.7 273.5,306.7 274.0,306.8 274.5,306.8 275.0,306.8 275.5,306.8 276.0,306.8 276.5,306.8 277.0,306.9 277.5,306.9 278.0,306.9 278.5,306.9 279.0,306.9 279.5,306.9 280.0,306.9 280.5,307.0 281.0,307.0 281.5,307.0 282.0,307.0 282.5,307.0 283.0,307.0 283.5,307.0 284.0,307.1 284.5,307.1 285.0,307.1 285.5,307.1 286.0,307.1 286.5,307.1 287.0,307.1 287.5,307.1 288.0,307.1 288.5,307.2 289.0,307.2 289.5,307.2 290.0,307.2 290.5,307.2 291.0,307.2 291.5,307.2 292.0,307.2 292.5,307.2 293.0,307.3 293.5,307.3 294.0,307.3 294.5,307.3 295.0,307.3 295.5,307.3 296.0,307.3 296.5,307.3 297.0,307.3 297.5,307.3 298.0,307.4 298.5,307.4 299.0,307.4 299.5,307.4 300.0,307.4 300.5,307.4 301.0,307.4 301.5,307.4 302.0,307.4 302.5,307.5 303.0,307.5 303.5,307.5 304.0,307.5 304.5,307.5 305.0,307.5 305.5,307.5 306.0,307.5 306.5,307.5 307.0,307.6 307.5,307.6 308.0,307.6 308.5,307.6 309.0,307.6 309.5,307.6 310.0,307.6 310.5,307.6 311.0,307.7 311.5,307.7 312.0,307.7 312.5,307.7 313.0,307.7 313.5,307.7 314.0,307.7 314.5,307.7 315.0,307.7 315.5,307.8 316.0,307.8 316.5,307.8 317.0,307.8 317.5,307.8 318.0,307.8 318.5,307.8 319.0,307.8 319.5,307.8 320.0,307.9 320.5,307.9 321.0,307.9 321.5,307.9 322.0,307.9 322.5,307.9 323.0,307.9 323.5,307.9 324.0,307.9 324.5,308.0 325.0,308.0 325.5,308.0 326.0,308.0 326.5,308.0 327.0,308.0 327.5,308.0 328.0,308.0 328.5,308.0 329.0,308.0 329.5,308.1 330.0,308.1 330.5,308.1 331.0,308.1 331.5,308.1 332.0,308.1 332.5,308.1 333.0,308.1 333.5,308.1 334.0,308.1 334.5,308.1 335.0,308.1 335.5,308.1 336.0,308.2 336.5,308.2 337.0,308.2 337.5,308.2 338.0,308.2 338.5,308.2 339.0,308.2 339.5,308.2 340.0,308.2 340.5,308.2 341.0,308.2 341.5,308.2 342.0,308.2 342.5,308.2 343.0,308.2 343.5,308.2 344.0,308.2 344.5,308.2 345.0,308.2 345.5,308.3 346.0,308.3 346.5,308.3 347.0,308.3 347.5,308.3 348.0,308.3 348.5,308.3 349.0,308.3 349.5,308.3 350.0,308.3 350.5,308.3 351.0,308.3 351.5,308.3 352.0,308.3 352.5,308.3 353.0,308.3 353.5,308.3 354.0,308.3 354.5,308.3 355.0,308.3 355.5,308.3 356.0,308.3 356.5,308.3 357.0,308.4 357.5,308.4 358.0,308.4 358.5,308.4 359.0,308.4 359.5,308.4 360.0,308.4 360.5,308.4 361.0,308.4 361.5,308.4 362.0,308.4 362.5,308.4 363.0,308.4 363.5,308.4 364.0,308.4 364.5,308.4 365.0,308.4 365.5,308.4 366.0,308.4 366.5,308.4 367.0,308.4 367.5,308.4 368.0,308.4 368.5,308.4 369.0,308.4 369.5,308.4 370.0,308.4 370.5,308.4 371.0,308.4 371.5,308.4 372.0,308.3 372.5,308.3 373.0,308.3 373.5,308.2 374.0,308.2 374.5,308.1 375.0,308.1 375.5,308.0 376.0,308.0 376.5,307.9 377.0,307.8 377.5,307.8 378.0,307.7 378.5,307.6 379.0,307.5 379.5,307.4 380.0,307.3 380.5,307.2 381.0,307.1 381.5,306.9 382.0,306.8 382.5,306.7 383.0,306.5 383.5,306.3 384.0,306.1 384.5,305.9 385.0,305.6 385.5,305.2 386.0,304.7 386.5,304.1 387.0,303.5 387.5,302.9 388.0,302.3 388.5,301.6 389.0,300.8 389.4,300.0 389.9,299.1 390.3,298.2 390.8,297.2 391.2,296.1 391.6,295.0 392.1,293.9 392.5,292.7 392.9,291.5 393.4,290.4 393.8,289.2 394.2,288.1 394.7,287.1 395.1,285.7 395.5,283.7 395.9,281.4 396.4,279.2 396.8,277.1 397.2,275.0 397.7,272.8 398.1,270.9 398.5,268.5 399.1,261.0 399.7,256.5 400.3,250.0 400.8,244.0 401.3,237.2 401.9,232.7 402.4,229.4 403.0,226.3 403.6,224.6 404.1,224.5 404.7,224.4 405.2,224.4 405.8,226.0 406.3,236.0 406.9,244.0 407.4,252.4 407.9,260.0 408.6,266.0 409.2,272.0 409.8,275.5 410.4,278.4 411.0,281.6 411.6,284.6 412.0,286.4 412.5,288.1 412.9,289.5 413.3,290.8 413.8,292.0 414.2,293.0 414.7,293.8 415.2,294.5 415.7,295.1 416.2,295.6 416.7,296.0 417.2,296.3 417.7,296.5 418.2,296.6 418.8,296.7 419.3,296.8 419.8,296.9 420.3,296.9 420.8,296.8 421.3,296.6 421.8,296.3 422.3,296.0 422.8,295.7 423.4,295.3 423.9,294.9 424.4,294.4 425.0,293.8 425.5,293.2 426.0,292.6 426.5,291.8 427.0,290.9 427.5,289.6 428.0,287.9 428.5,285.7 429.0,283.1 429.5,279.3 430.0,274.5 430.5,269.3 431.0,264.1 431.5,259.4 432.0,255.5 432.5,252.3 433.0,250.7 433.5,250.7 434.0,250.7 434.5,253.0 435.0,257.2 435.5,261.5 436.0,265.9 436.5,269.7 437.0,272.8 437.5,274.7 438.0,276.2 438.5,277.5 439.0,278.7 439.5,279.7 440.0,280.5 440.5,281.2 441.0,281.7 441.5,282.2 442.0,282.5 442.5,282.7 443.0,282.9 443.5,283.0 444.0,283.0 444.5,282.9 445.0,282.7 445.5,282.3 446.0,282.0 446.5,281.6 447.0,281.1 447.5,280.6 448.0,280.2 448.5,279.8 449.0,279.4 449.5,279.0 450.0,278.6 450.5,278.4 451.0,278.3 451.5,278.6 452.0,279.2 452.5,280.0 453.0,280.8 453.5,281.5 454.0,282.3 454.5,283.2 455.0,283.9 455.5,284.6 456.0,285.2 456.5,285.8 457.0,286.4 457.5,287.0 458.0,287.6 458.5,288.2 459.0,288.9 459.5,289.5 460.0,290.2 460.5,290.8 461.0,291.3 461.5,291.8 462.0,292.2 462.5,292.7 463.0,293.1 463.5,293.4 464.0,293.8 464.5,294.2 465.0,294.6 465.5,295.0 466.0,295.4 466.5,295.6 467.0,295.7 467.5,294.5 468.0,292.4 468.5,290.6 469.0,289.0 469.5,287.8 470.0,286.8 470.5,285.9 471.0,285.1 471.5,284.5 472.0,283.9 472.5,283.4 473.0,282.7 473.5,281.8 474.0,280.8 474.5,279.6 475.0,278.3 475.5,276.8 476.0,275.0 476.5,273.4 477.0,272.2 477.5,271.6 478.0,270.9 478.5,269.7 479.0,268.0 479.5,266.1 480.0,264.0 480.5,261.7 481.0,259.0 481.5,255.5 482.0,252.0 482.5,249.0 483.0,247.0 483.5,246.2 484.0,245.6 484.5,245.1 485.0,245.0 485.5,246.1 486.0,247.2 486.5,246.0 487.0,243.9 487.5,241.9 488.0,239.4 488.5,234.9 489.0,229.4 489.5,223.7 490.0,218.3 490.5,214.4 491.0,210.6 491.5,205.1 492.0,200.0 492.5,196.3 493.0,194.4 493.5,194.4 494.0,194.4 494.5,198.1 495.0,205.0 495.5,213.5 496.0,221.7 496.5,226.2 497.0,230.6 497.5,237.3 498.0,245.0 498.5,252.7 499.0,260.0 499.5,266.5 500.0,272.0 500.5,276.7 501.0,280.0 501.5,281.9 502.0,282.8 502.5,282.0 503.0,280.6 503.5,279.3 504.0,277.7 504.5,276.5 505.0,276.0 505.5,276.1 506.0,276.6 506.5,277.1 507.0,277.9 507.5,278.6 508.0,279.4 508.5,280.4 509.0,281.8 509.5,282.9 510.0,283.4 510.5,283.2 511.0,282.6 511.5,281.8 512.0,280.9 512.5,280.1 513.0,279.4 513.5,278.8 514.0,278.1 514.5,277.6 515.0,277.4 515.5,277.7 516.0,278.6 516.5,279.6 517.0,280.4 517.5,281.1 518.0,281.9 518.5,282.6 519.0,283.2 519.5,283.6 520.0,283.8 520.5,283.7 521.0,283.6 521.5,283.3 522.0,283.0 522.5,281.9 523.0,279.7 523.5,276.8 524.0,273.5 524.5,267.8 525.0,263.6 525.5,263.1 526.0,262.8 526.5,262.7 527.0,262.6 527.5,263.2 528.0,264.6 528.5,266.0 529.0,266.6 529.5,266.3 530.0,265.7 530.5,265.1 531.0,264.6 531.5,264.4 532.0,264.2 532.5,264.1 533.0,264.0 533.5,263.8 534.0,263.6 534.5,263.2 535.0,262.7 535.5,262.0 536.0,261.2 536.5,260.4 537.0,259.6 537.5,258.8 538.0,258.0 538.5,257.1 539.0,256.2 539.5,255.4 540.0,254.7 540.5,254.1 541.0,253.6 541.5,253.1 542.0,252.6 542.4,252.2 542.9,251.7 543.4,251.3 543.9,250.8"/>
<polyline fill="none" stroke="#800080" stroke-width="1.7" stroke-linejoin="round" stroke-linecap="round" points="29.6,282.8 30.1,282.8 30.6,282.8 31.1,282.8 31.6,282.8 32.1,282.9 32.6,282.9 33.1,282.9 33.6,282.9 34.1,282.9 34.6,282.9 35.0,282.9 35.5,282.9 36.0,283.0 36.5,283.0 37.0,283.0 37.5,283.0 38.0,283.0 38.5,283.0 39.0,283.0 39.5,283.0 40.0,283.0 40.5,283.0 41.0,283.0 41.5,283.0 42.0,283.0 42.5,283.0 43.0,283.0 43.5,283.0 44.0,283.0 44.5,283.0 45.0,283.0 45.5,283.0 46.0,283.0 46.5,283.0 47.0,283.0 47.5,283.0 48.0,283.0 48.5,283.0 49.0,283.0 49.5,283.0 50.0,283.0 50.5,283.0 51.0,283.0 51.5,283.0 52.0,283.0 52.5,283.0 53.0,283.0 53.5,283.1 54.0,283.1 54.5,283.1 55.0,283.1 55.5,283.1 56.0,283.1 56.5,283.1 57.0,283.2 57.5,283.2 58.0,283.2 58.5,283.2 59.0,283.2 59.5,283.2 60.0,283.2 60.5,283.2 61.0,283.2 61.5,283.2 62.0,283.2 62.5,283.2 63.0,283.2 63.5,283.1 64.0,283.1 64.5,283.1 65.0,283.1 65.5,283.1 66.0,283.0 66.5,283.0 67.0,283.0 67.5,282.9 68.0,282.9 68.5,282.9 69.0,282.9 69.5,282.8 70.0,282.8 70.5,282.8 71.0,282.7 71.5,282.7 72.0,282.7 72.5,282.6 73.0,282.6 73.5,282.5 74.0,282.5 74.5,282.4 75.0,282.4 75.5,282.3 76.0,282.2 76.5,282.2 77.0,282.1 77.5,282.0 78.0,281.9 78.5,281.9 79.0,281.8 79.5,281.7 80.0,281.6 80.5,281.5 81.0,281.4 81.5,281.3 82.0,281.1 82.5,281.0 83.0,280.8 83.5,280.7 84.0,280.5 84.5,280.3 85.0,280.1 85.5,279.9 86.0,279.6 86.5,279.4 87.0,279.1 87.5,278.8 88.0,278.5 88.5,278.2 89.0,277.9 89.5,277.5 90.0,277.2 90.5,276.9 91.0,276.5 91.5,276.2 92.0,275.8 92.5,275.4 93.0,275.0 93.5,274.6 94.0,274.3 94.5,273.9 95.0,273.5 95.5,273.1 96.0,272.8 96.5,272.4 97.0,272.1 97.5,271.7 98.0,271.3 98.5,271.0 99.0,270.6 99.5,270.2 100.0,269.8 100.5,269.4 101.0,269.0 101.5,268.5 102.0,268.0 102.5,267.6 103.0,267.1 103.5,266.7 104.0,266.2 104.5,265.7 105.0,265.3 105.5,264.9 106.0,264.4 106.5,264.0 107.0,263.5 107.5,263.1 108.0,262.7 108.5,262.3 109.0,261.9 109.5,261.5 110.0,261.1 110.5,260.7 111.0,260.4 111.5,260.1 112.0,259.7 112.5,259.4 113.0,259.1 113.5,258.8 114.0,258.5 114.5,258.2 115.0,257.9 115.5,257.6 116.0,257.3 116.5,257.1 117.0,256.8 117.5,256.5 118.0,256.3 118.5,256.0 119.0,255.8 119.5,255.6 120.0,255.4 120.5,255.2 121.0,255.1 121.5,254.9 122.0,254.8 122.5,254.6 123.0,254.5 123.5,254.4 124.0,254.2 124.5,254.1 125.0,254.0 125.5,253.9 126.0,253.8 126.5,253.7 127.0,253.5 127.5,253.4 128.0,253.3 128.5,253.2 129.0,253.2 129.5,253.1 130.0,253.0 130.5,252.9 131.0,252.9 131.5,252.8 132.0,252.7 132.5,252.7 133.0,252.6 133.5,252.6 134.0,252.5 134.5,252.5 135.0,252.5 135.5,252.5 136.0,252.5 136.5,252.5 137.0,252.5 137.5,252.6 138.0,252.6 138.5,252.6 139.0,252.6 139.5,252.6 140.0,252.6 140.5,252.6 141.0,252.6 141.5,252.6 142.0,252.6 142.5,252.6 143.0,252.6 143.5,252.6 144.0,252.6 144.5,252.6 145.0,252.6 145.5,252.6 146.0,252.6 146.5,252.6 147.0,252.6 147.5,252.7 148.0,252.7 148.5,252.7 149.0,252.7 149.5,252.8 150.0,252.8 150.5,252.8 151.0,252.9 151.5,252.9 152.0,253.0 152.5,253.1 153.0,253.2 153.5,253.3 154.0,253.4 154.5,253.5 155.0,253.6 155.5,253.7 156.0,253.9 156.5,254.1 157.0,254.3 157.5,254.5 158.0,254.7 158.5,254.9 159.0,255.1 159.5,255.4 160.0,255.6 160.5,255.8 161.0,256.1 161.5,256.3 162.0,256.6 162.5,256.8 163.0,257.1 163.5,257.3 164.0,257.6 164.5,257.8 165.0,258.1 165.5,258.4 166.0,258.6 166.5,258.9 167.0,259.1 167.5,259.4 168.0,259.6 168.5,259.9 169.0,260.2 169.5,260.4 170.0,260.7 170.5,261.0 171.0,261.2 171.5,261.5 172.0,261.8 172.5,262.1 173.0,262.3 173.5,262.6 174.0,262.9 174.5,263.1 175.0,263.4 175.5,263.7 176.0,263.9 176.5,264.2 177.0,264.4 177.5,264.7 178.0,264.9 178.5,265.2 179.0,265.4 179.5,265.7 180.0,265.9 180.5,266.1 181.0,266.4 181.5,266.6 182.0,266.8 182.5,267.0 183.0,267.3 183.5,267.5 184.0,267.7 184.5,267.9 185.0,268.1 185.5,268.3 186.0,268.6 186.5,268.8 187.0,269.1 187.5,269.3 188.0,269.4 188.5,269.6 189.0,269.6 189.5,269.6 190.0,269.6 190.5,269.5 191.0,269.4 191.5,269.4 192.0,269.3 192.5,269.2 193.0,269.0 193.5,268.8 194.0,268.6 194.5,268.5 195.0,268.4 195.5,268.4 196.0,268.5 196.5,268.5 197.0,268.6 197.5,268.7 198.0,268.8 198.5,269.0 199.0,269.1 199.5,269.2 200.0,269.3 200.5,269.4 201.0,269.5 201.5,269.6 202.0,269.7 202.5,269.8 203.0,269.9 203.5,270.0 204.0,270.1 204.5,270.3 205.0,270.4 205.5,270.5 206.0,270.6 206.5,270.7 207.0,270.8 207.5,270.9 208.0,271.0 208.5,271.2 209.0,271.3 209.5,271.4 210.0,271.5 210.5,271.6 211.0,271.7 211.5,271.8 212.0,272.0 212.5,272.1 213.0,272.2 213.5,272.3 214.0,272.4 214.5,272.6 215.0,272.7 215.5,272.8 216.0,272.9 216.5,273.1 217.0,273.2 217.5,273.3 218.0,273.4 218.5,273.5 219.0,273.7 219.5,273.8 220.0,273.9 220.5,274.0 221.0,274.1 221.5,274.2 222.0,274.3 222.5,274.4 223.0,274.5 223.5,274.6 224.0,274.7 224.5,274.8 225.0,274.9 225.5,275.0 226.0,275.1 226.5,275.2 227.0,275.2 227.5,275.3 228.0,275.4 228.5,275.5 229.0,275.6 229.5,275.6 230.0,275.7 230.5,275.8 231.0,275.9 231.5,275.9 232.0,276.0 232.5,276.1 233.0,276.2 233.5,276.2 234.0,276.3 234.5,276.4 235.0,276.4 235.5,276.5 236.0,276.6 236.5,276.6 237.0,276.7 237.5,276.8 238.0,276.8 238.5,276.9 239.0,277.0 239.5,277.0 240.0,277.1 240.5,277.2 241.0,277.2 241.5,277.3 242.0,277.3 242.5,277.4 243.0,277.5 243.5,277.5 244.0,277.6 244.5,277.6 245.0,277.7 245.5,277.7 246.0,277.8 246.5,277.8 247.0,277.9 247.5,278.0 248.0,278.0 248.5,278.1 249.0,278.1 249.5,278.2 250.0,278.2 250.5,278.2 251.0,278.3 251.5,278.3 252.0,278.4 252.5,278.4 253.0,278.5 253.5,278.5 254.0,278.6 254.5,278.6 255.0,278.7 255.5,278.7 256.0,278.8 256.5,278.8 257.0,278.9 257.5,278.9 258.0,279.0 258.5,279.0 259.0,279.1 259.5,279.1 260.0,279.2 260.5,279.2 261.0,279.3 261.5,279.3 262.0,279.3 262.5,279.4 263.0,279.4 263.5,279.5 264.0,279.5 264.5,279.5 265.0,279.6 265.5,279.6 266.0,279.7 266.5,279.7 267.0,279.7 267.5,279.8 268.0,279.8 268.5,279.8 269.0,279.9 269.5,279.9 270.0,279.9 270.5,279.9 271.0,280.0 271.5,280.0 272.0,280.0 272.5,280.0 273.0,280.0 273.5,280.1 274.0,280.1 274.5,280.1 275.0,280.1 275.5,280.1 276.0,280.1 276.5,280.1 277.0,280.1 277.5,280.1 278.0,280.2 278.5,280.2 279.0,280.2 279.5,280.2 280.0,280.2 280.5,280.2 281.0,280.2 281.5,280.2 282.0,280.2 282.5,280.2 283.0,280.2 283.5,280.2 284.0,280.2 284.5,280.2 285.0,280.2 285.5,280.2 286.0,280.2 286.5,280.2 287.0,280.2 287.5,280.2 288.0,280.3 288.5,280.3 289.0,280.3 289.5,280.3 290.0,280.3 290.5,280.3 291.0,280.3 291.5,280.3 292.0,280.3 292.5,280.3 293.0,280.3 293.5,280.3 294.0,280.3 294.5,280.3 295.0,280.3 295.5,280.3 296.0,280.3 296.5,280.3 297.0,280.3 297.5,280.4 298.0,280.4 298.5,280.4 299.0,280.4 299.5,280.4 300.0,280.4 300.5,280.4 301.0,280.4 301.5,280.4 302.0,280.5 302.5,280.5 303.0,280.5 303.5,280.5 304.0,280.6 304.5,280.6 305.0,280.6 305.5,280.7 306.0,280.7 306.5,280.8 307.0,280.8 307.5,280.8 308.0,280.9 308.5,280.9 309.0,281.0 309.5,281.0 310.0,281.0 310.5,281.1 311.0,281.1 311.5,281.2 312.0,281.2 312.5,281.2 313.0,281.3 313.5,281.3 314.0,281.3 314.5,281.4 315.0,281.4 315.5,281.4 316.0,281.4 316.5,281.5 317.0,281.5 317.5,281.5 318.0,281.5 318.5,281.5 319.0,281.5 319.5,281.5 320.0,281.5 320.5,281.5 321.0,281.5 321.5,281.6 322.0,281.6 322.5,281.6 323.0,281.6 323.5,281.6 324.0,281.6 324.5,281.6 325.0,281.6 325.5,281.6 326.0,281.6 326.5,281.6 327.0,281.6 327.5,281.6 328.0,281.6 328.5,281.6 329.0,281.6 329.5,281.6 330.0,281.7 330.5,281.7 331.0,281.7 331.5,281.7 332.0,281.7 332.5,281.7 333.0,281.7 333.5,281.7 334.0,281.7 334.5,281.7 335.0,281.7 335.5,281.7 336.0,281.7 336.5,281.7 337.0,281.7 337.5,281.7 338.0,281.7 338.5,281.7 339.0,281.7 339.5,281.7 340.0,281.7 340.5,281.7 341.0,281.7 341.5,281.7 342.0,281.7 342.5,281.7 343.0,281.7 343.5,281.7 344.0,281.7 344.5,281.7 345.0,281.7 345.5,281.7 346.0,281.7 346.5,281.7 347.0,281.7 347.5,281.6 348.0,281.6 348.5,281.6 349.0,281.6 349.5,281.6 350.0,281.6 350.5,281.6 351.0,281.6 351.5,281.6 352.0,281.6 352.5,281.5 353.0,281.5 353.5,281.5 354.0,281.5 354.5,281.5 355.0,281.5 355.5,281.5 356.0,281.5 356.5,281.4 357.0,281.4 357.5,281.4 358.0,281.4 358.5,281.4 359.0,281.4 359.5,281.4 360.0,281.3 360.5,281.3 361.0,281.3 361.5,281.3 362.0,281.3 362.5,281.3 363.0,281.2 363.5,281.2 364.0,281.2 364.5,281.2 365.0,281.2 365.5,281.2 366.0,281.1 366.5,281.1 367.0,281.1 367.5,281.1 368.0,281.1 368.5,281.1 369.0,281.0 369.5,281.0 370.0,281.0 370.5,281.0 371.0,281.0 371.5,280.9 372.0,280.9 372.5,280.9 373.0,280.9 373.5,280.8 374.0,280.8 374.5,280.8 375.0,280.8 375.5,280.7 376.0,280.7 376.5,280.6 377.0,280.6 377.5,280.6 378.0,280.5 378.5,280.4 379.0,280.3 379.5,280.2 380.0,280.1 380.5,280.0 381.0,279.8 381.5,279.7 382.0,279.5 382.5,279.3 383.0,279.1 383.5,278.8 384.0,278.6 384.5,278.3 385.0,278.0 385.5,277.7 386.0,277.4 386.5,277.0 387.0,276.7 387.5,276.2 388.0,275.8 388.5,275.3 389.0,274.7 389.5,274.0 390.0,273.3 390.5,272.5 391.0,271.6 391.5,270.6 392.0,269.6 392.5,268.6 393.0,267.6 393.5,266.5 394.0,265.3 394.5,263.8 395.0,262.0 395.5,259.4 396.0,256.5 396.4,254.2 396.9,252.0 397.3,249.8 397.9,246.7 398.5,243.6 399.0,241.3 399.5,238.7 400.0,235.0 400.5,228.3 400.9,226.8 401.4,225.2 401.7,219.7 402.3,214.8 403.0,211.0 403.5,208.8 404.1,206.9 404.6,206.1 405.1,206.2 405.5,206.6 406.0,207.3 406.7,212.3 407.3,217.2 407.8,219.2 408.3,222.2 408.5,228.3 409.1,232.0 409.5,238.2 409.8,245.0 410.4,250.0 411.0,255.0 411.4,257.1 411.9,258.7 412.3,260.0 412.8,261.1 413.2,262.1 413.7,262.9 414.1,263.6 414.6,264.4 415.1,265.1 415.6,265.7 416.1,266.3 416.6,266.7 417.1,267.1 417.7,267.4 418.2,267.8 418.7,268.1 419.2,268.3 419.8,268.4 420.3,268.5 420.8,268.5 421.3,268.5 421.8,268.5 422.3,268.5 422.8,268.5 423.4,268.4 423.9,268.2 424.4,267.8 425.0,267.3 425.5,265.9 426.0,263.2 426.5,260.0 427.0,257.2 427.5,255.0 428.0,252.9 428.5,250.8 429.0,248.6 429.5,246.3 430.0,243.4 430.5,238.3 431.0,233.3 431.5,230.1 432.0,227.2 432.5,225.2 433.0,224.4 433.5,224.7 434.0,225.4 434.5,226.5 435.0,227.8 435.5,229.8 436.0,232.7 436.5,236.3 437.0,240.0 437.5,244.8 438.0,248.6 438.5,249.9 439.0,250.9 439.5,251.6 440.0,252.1 440.5,252.5 441.0,252.9 441.5,253.3 442.0,253.6 442.5,253.7 443.0,253.8 443.5,253.8 444.0,253.7 444.5,253.7 445.0,253.6 445.5,253.5 446.0,253.4 446.5,253.2 447.0,252.7 447.5,252.3 448.0,251.8 448.5,251.3 449.0,250.8 449.5,250.2 450.0,249.8 450.5,249.4 451.0,249.3 451.5,249.5 452.0,249.9 452.5,250.6 453.0,251.2 453.5,252.0 454.0,253.0 454.5,254.0 455.0,254.9 455.5,255.7 456.0,256.4 456.5,257.2 457.0,257.9 457.5,258.5 458.0,259.2 458.5,259.9 459.0,260.5 459.5,261.1 460.0,261.7 460.5,262.3 461.0,262.9 461.5,263.5 462.0,264.0 462.5,264.6 463.0,265.1 463.5,265.6 464.0,266.0 464.5,266.4 465.0,266.8 465.5,267.2 466.0,267.5 466.5,267.7 467.0,267.8 467.5,267.2 468.0,265.7 468.5,263.5 469.0,259.2 469.5,258.7 470.0,258.4 470.5,258.3 471.0,258.0 471.5,257.6 472.0,257.1 472.5,256.6 473.0,256.1 473.5,255.5 474.0,255.0 474.5,254.3 475.0,253.6 475.5,252.9 476.0,252.1 476.5,251.1 477.0,249.9 477.5,247.7 478.0,245.0 478.5,242.2 479.0,239.5 479.5,237.6 480.0,235.8 480.5,234.1 481.0,232.1 481.5,229.0 482.0,225.9 482.5,223.6 483.0,222.2 483.5,221.7 484.0,221.3 484.5,221.1 485.0,221.0 485.5,221.2 486.0,221.6 486.5,222.0 487.0,222.2 487.5,221.4 488.0,219.8 488.5,217.6 489.0,214.8 489.5,211.8 490.0,207.4 490.4,200.0 490.8,192.0 491.5,187.0 491.9,185.1 492.3,182.0 492.5,174.0 493.1,174.0 493.6,174.0 494.2,174.0 494.4,182.0 495.0,186.0 495.6,192.0 496.0,198.0 496.5,201.7 497.0,205.0 497.5,210.2 498.0,216.0 498.5,221.6 499.0,227.2 499.5,232.9 500.0,238.3 500.5,243.4 501.0,247.2 501.5,249.5 502.0,250.6 502.5,250.4 503.0,249.9 503.5,249.2 504.0,248.3 504.5,246.2 505.0,244.5 505.5,244.6 506.0,244.8 506.5,245.2 507.0,245.7 507.5,246.2 508.0,246.8 508.5,247.7 509.0,249.1 509.5,250.3 510.0,250.8 510.5,250.6 511.0,250.1 511.5,249.5 512.0,248.8 512.5,248.0 513.0,247.0 513.5,246.2 514.0,245.8 514.5,246.0 515.0,246.4 515.5,247.1 516.0,247.8 516.5,248.9 517.0,250.4 517.5,251.8 518.0,252.7 518.5,253.1 519.0,253.4 519.5,253.6 520.0,253.7 520.5,253.6 521.0,253.5 521.5,253.1 522.0,252.7 522.5,249.9 523.0,245.8 523.5,242.9 524.0,240.3 524.5,237.9 525.0,235.9 525.5,234.0 526.0,233.0 526.5,233.3 527.0,233.9 527.5,234.6 528.0,234.9 528.5,234.8 529.0,234.5 529.5,234.2 530.0,234.0 530.5,233.9 531.0,233.7 531.5,233.6 532.0,233.5 532.5,233.4 533.0,233.3 533.5,233.2 534.0,233.0 534.5,232.7 535.0,232.3 535.5,231.8 536.0,231.3 536.5,230.6 537.0,230.0 537.5,229.3 538.0,228.3 538.5,227.4 539.0,226.3 539.5,225.3 540.0,224.4 540.5,223.6 541.0,222.8 541.5,222.0 542.0,221.3 542.4,220.5 542.9,219.8 543.4,219.1 543.9,218.3"/>
<polyline fill="none" stroke="#008000" stroke-width="1.7" stroke-linejoin="round" stroke-linecap="round" points="29.6,253.6 30.1,253.6 30.6,253.6 31.1,253.6 31.6,253.6 32.1,253.6 32.6,253.6 33.1,253.6 33.6,253.6 34.1,253.6 34.6,253.6 35.0,253.6 35.5,253.6 36.0,253.6 36.5,253.6 37.0,253.6 37.5,253.6 38.0,253.6 38.5,253.6 39.0,253.6 39.5,253.6 40.0,253.6 40.5,253.6 41.0,253.6 41.5,253.6 42.0,253.6 42.5,253.6 43.0,253.6 43.5,253.5 44.0,253.5 44.5,253.5 45.0,253.5 45.5,253.5 46.0,253.5 46.5,253.5 47.0,253.4 47.5,253.4 48.0,253.4 48.5,253.4 49.0,253.4 49.5,253.4 50.0,253.4 50.5,253.4 51.0,253.4 51.5,253.4 52.0,253.4 52.5,253.5 53.0,253.5 53.5,253.5 54.0,253.5 54.5,253.6 55.0,253.6 55.5,253.6 56.0,253.7 56.5,253.7 57.0,253.7 57.5,253.7 58.0,253.8 58.5,253.8 59.0,253.8 59.5,253.8 60.0,253.8 60.5,253.8 61.0,253.8 61.5,253.8 62.0,253.8 62.5,253.8 63.0,253.8 63.5,253.8 64.0,253.8 64.5,253.8 65.0,253.8 65.5,253.8 66.0,253.7 66.5,253.7 67.0,253.6 67.5,253.5 68.0,253.4 68.5,253.3 69.0,253.3 69.5,253.2 70.0,253.2 70.5,253.2 71.0,253.2 71.5,253.2 72.0,253.2 72.5,253.2 73.0,253.3 73.5,253.3 74.0,253.3 74.5,253.3 75.0,253.3 75.5,253.3 76.0,253.3 76.5,253.3 77.0,253.3 77.5,253.4 78.0,253.4 78.5,253.4 79.0,253.4 79.5,253.4 80.0,253.4 80.5,253.4 81.0,253.3 81.5,253.2 82.0,253.1 82.5,253.0 83.0,252.8 83.5,252.6 84.0,252.4 84.5,252.2 85.0,252.0 85.5,251.8 86.0,251.5 86.5,251.1 87.0,250.7 87.5,250.3 88.0,249.8 88.5,249.4 89.0,248.9 89.5,248.5 90.0,248.1 90.5,247.7 91.0,247.3 91.5,246.9 92.0,246.5 92.5,246.1 93.0,245.7 93.5,245.3 94.0,244.9 94.5,244.5 95.0,244.1 95.5,243.7 96.0,243.3 96.5,242.9 97.0,242.5 97.5,242.1 98.0,241.7 98.5,241.3 99.0,240.9 99.5,240.6 100.0,240.2 100.5,239.8 101.0,239.5 101.5,239.1 102.0,238.7 102.5,238.4 103.0,238.0 103.5,237.7 104.0,237.3 104.5,237.0 105.0,236.6 105.5,236.3 106.0,235.9 106.5,235.6 107.0,235.3 107.5,234.9 108.0,234.6 108.5,234.3 109.0,233.9 109.5,233.6 110.0,233.3 110.5,233.0 111.0,232.7 111.5,232.3 112.0,232.0 112.5,231.7 113.0,231.3 113.5,231.0 114.0,230.7 114.5,230.4 115.0,230.1 115.5,229.7 116.0,229.4 116.5,229.1 117.0,228.9 117.5,228.6 118.0,228.3 118.5,228.1 119.0,227.8 119.5,227.6 120.0,227.4 120.5,227.2 121.0,227.0 121.5,226.8 122.0,226.6 122.5,226.4 123.0,226.3 123.5,226.1 124.0,225.9 124.5,225.7 125.0,225.6 125.5,225.4 126.0,225.3 126.5,225.2 127.0,225.0 127.5,224.9 128.0,224.8 128.5,224.7 129.0,224.6 129.5,224.5 130.0,224.4 130.5,224.3 131.0,224.3 131.5,224.2 132.0,224.1 132.5,224.0 133.0,224.0 133.5,223.9 134.0,223.8 134.5,223.8 135.0,223.7 135.5,223.7 136.0,223.6 136.5,223.6 137.0,223.5 137.5,223.5 138.0,223.5 138.5,223.4 139.0,223.4 139.5,223.4 140.0,223.4 140.5,223.4 141.0,223.4 141.5,223.4 142.0,223.4 142.5,223.4 143.0,223.5 143.5,223.5 144.0,223.5 144.5,223.5 145.0,223.6 145.5,223.6 146.0,223.6 146.5,223.7 147.0,223.7 147.5,223.8 148.0,223.8 148.5,223.8 149.0,223.9 149.5,223.9 150.0,224.0 150.5,224.1 151.0,224.2 151.5,224.3 152.0,224.5 152.5,224.7 153.0,224.9 153.5,225.1 154.0,225.3 154.5,225.5 155.0,225.7 155.5,225.9 156.0,226.1 156.5,226.4 157.0,226.6 157.5,226.9 158.0,227.2 158.5,227.4 159.0,227.7 159.5,228.0 160.0,228.3 160.5,228.6 161.0,228.9 161.5,229.3 162.0,229.6 162.5,229.9 163.0,230.3 163.5,230.7 164.0,231.0 164.5,231.4 165.0,231.7 165.5,232.0 166.0,232.4 166.5,232.7 167.0,233.0 167.5,233.4 168.0,233.7 168.5,234.0 169.0,234.4 169.5,234.7 170.0,235.0 170.5,235.3 171.0,235.6 171.5,235.9 172.0,236.2 172.5,236.5 173.0,236.8 173.5,237.1 174.0,237.4 174.5,237.7 175.0,237.9 175.5,238.1 176.0,238.4 176.5,238.6 177.0,238.8 177.5,239.0 178.0,239.2 178.5,239.4 179.0,239.6 179.5,239.7 180.0,239.9 180.5,240.1 181.0,240.2 181.5,240.3 182.0,240.4 182.5,240.6 183.0,240.7 183.5,240.8 184.0,240.9 184.5,241.1 185.0,241.2 185.5,241.4 186.0,241.6 186.5,241.8 187.0,241.9 187.5,242.1 188.0,242.1 188.5,242.1 189.0,242.0 189.5,241.9 190.0,241.7 190.5,241.5 191.0,241.3 191.5,241.2 192.0,241.0 192.5,240.8 193.0,240.6 193.5,240.4 194.0,240.3 194.5,240.1 195.0,240.1 195.5,240.1 196.0,240.3 196.5,240.4 197.0,240.6 197.5,240.8 198.0,241.0 198.5,241.2 199.0,241.3 199.5,241.5 200.0,241.6 200.5,241.8 201.0,242.0 201.5,242.1 202.0,242.3 202.5,242.5 203.0,242.6 203.5,242.8 204.0,243.0 204.5,243.1 205.0,243.3 205.5,243.5 206.0,243.6 206.5,243.8 207.0,243.9 207.5,244.0 208.0,244.2 208.5,244.3 209.0,244.4 209.5,244.6 210.0,244.7 210.5,244.8 211.0,244.9 211.5,245.0 212.0,245.2 212.5,245.3 213.0,245.4 213.5,245.5 214.0,245.5 214.5,245.6 215.0,245.7 215.5,245.8 216.0,245.8 216.5,245.9 217.0,246.0 217.5,246.0 218.0,246.1 218.5,246.1 219.0,246.2 219.5,246.2 220.0,246.2 220.5,246.3 221.0,246.3 221.5,246.4 222.0,246.4 222.5,246.5 223.0,246.5 223.5,246.6 224.0,246.6 224.5,246.6 225.0,246.7 225.5,246.8 226.0,246.8 226.5,246.9 227.0,246.9 227.5,247.0 228.0,247.0 228.5,247.1 229.0,247.1 229.5,247.2 230.0,247.3 230.5,247.3 231.0,247.4 231.5,247.4 232.0,247.5 232.5,247.5 233.0,247.6 233.5,247.7 234.0,247.7 234.5,247.8 235.0,247.8 235.5,247.9 236.0,248.0 236.5,248.0 237.0,248.1 237.5,248.1 238.0,248.2 238.5,248.3 239.0,248.3 239.5,248.4 240.0,248.4 240.5,248.5 241.0,248.6 241.5,248.6 242.0,248.7 242.5,248.7 243.0,248.8 243.5,248.8 244.0,248.9 244.5,248.9 245.0,249.0 245.5,249.1 246.0,249.1 246.5,249.2 247.0,249.2 247.5,249.3 248.0,249.3 248.5,249.4 249.0,249.4 249.5,249.5 250.0,249.5 250.5,249.5 251.0,249.6 251.5,249.6 252.0,249.7 252.5,249.7 253.0,249.8 253.5,249.8 254.0,249.9 254.5,249.9 255.0,250.0 255.5,250.0 256.0,250.1 256.5,250.1 257.0,250.2 257.5,250.2 258.0,250.3 258.5,250.3 259.0,250.4 259.5,250.4 260.0,250.5 260.5,250.5 261.0,250.6 261.5,250.6 262.0,250.6 262.5,250.7 263.0,250.7 263.5,250.8 264.0,250.8 264.5,250.9 265.0,250.9 265.5,250.9 266.0,251.0 266.5,251.0 267.0,251.0 267.5,251.1 268.0,251.1 268.5,251.1 269.0,251.2 269.5,251.2 270.0,251.2 270.5,251.3 271.0,251.3 271.5,251.3 272.0,251.3 272.5,251.3 273.0,251.4 273.5,251.4 274.0,251.4 274.5,251.4 275.0,251.4 275.5,251.4 276.0,251.4 276.5,251.4 277.0,251.4 277.5,251.4 278.0,251.4 278.5,251.4 279.0,251.4 279.5,251.5 280.0,251.5 280.5,251.5 281.0,251.5 281.5,251.5 282.0,251.5 282.5,251.5 283.0,251.5 283.5,251.5 284.0,251.5 284.5,251.5 285.0,251.5 285.5,251.5 286.0,251.5 286.5,251.5 287.0,251.5 287.5,251.5 288.0,251.5 288.5,251.5 289.0,251.5 289.5,251.5 290.0,251.5 290.5,251.5 291.0,251.5 291.5,251.5 292.0,251.5 292.5,251.5 293.0,251.5 293.5,251.5 294.0,251.5 294.5,251.5 295.0,251.5 295.5,251.5 296.0,251.6 296.5,251.6 297.0,251.6 297.5,251.6 298.0,251.6 298.5,251.6 299.0,251.6 299.5,251.6 300.0,251.6 300.5,251.6 301.0,251.6 301.5,251.6 302.0,251.6 302.5,251.7 303.0,251.7 303.5,251.7 304.0,251.7 304.5,251.8 305.0,251.8 305.5,251.8 306.0,251.8 306.5,251.9 307.0,251.9 307.5,251.9 308.0,252.0 308.5,252.0 309.0,252.0 309.5,252.1 310.0,252.1 310.5,252.1 311.0,252.2 311.5,252.2 312.0,252.2 312.5,252.3 313.0,252.3 313.5,252.3 314.0,252.4 314.5,252.4 315.0,252.4 315.5,252.5 316.0,252.5 316.5,252.5 317.0,252.6 317.5,252.6 318.0,252.6 318.5,252.6 319.0,252.7 319.5,252.7 320.0,252.7 320.5,252.7 321.0,252.7 321.5,252.8 322.0,252.8 322.5,252.8 323.0,252.8 323.5,252.8 324.0,252.9 324.5,252.9 325.0,252.9 325.5,252.9 326.0,252.9 326.5,253.0 327.0,253.0 327.5,253.0 328.0,253.0 328.5,253.0 329.0,253.1 329.5,253.1 330.0,253.1 330.5,253.1 331.0,253.1 331.5,253.1 332.0,253.2 332.5,253.2 333.0,253.2 333.5,253.2 334.0,253.2 334.5,253.2 335.0,253.2 335.5,253.3 336.0,253.3 336.5,253.3 337.0,253.3 337.5,253.3 338.0,253.3 338.5,253.3 339.0,253.3 339.5,253.3 340.0,253.3 340.5,253.3 341.0,253.3 341.5,253.3 342.0,253.3 342.5,253.3 343.0,253.3 343.5,253.3 344.0,253.2 344.5,253.2 345.0,253.2 345.5,253.2 346.0,253.2 346.5,253.2 347.0,253.1 347.5,253.1 348.0,253.1 348.5,253.1 349.0,253.0 349.5,253.0 350.0,253.0 350.5,253.0 351.0,253.0 351.5,252.9 352.0,252.9 352.5,252.9 353.0,252.9 353.5,252.8 354.0,252.8 354.5,252.8 355.0,252.8 355.5,252.8 356.0,252.8 356.5,252.7 357.0,252.7 357.5,252.7 358.0,252.7 358.5,252.7 359.0,252.7 359.5,252.7 360.0,252.7 360.5,252.7 361.0,252.7 361.5,252.7 362.0,252.7 362.5,252.7 363.0,252.8 363.5,252.8 364.0,252.8 364.5,252.8 365.0,252.8 365.5,252.9 366.0,252.9 366.5,252.9 367.0,252.9 367.5,253.0 368.0,253.0 368.5,253.0 369.0,253.0 369.5,253.0 370.0,253.0 370.5,253.0 371.0,253.0 371.5,253.0 372.0,252.9 372.5,252.9 373.0,252.9 373.5,252.8 374.0,252.8 374.5,252.7 375.0,252.7 375.5,252.6 376.0,252.5 376.5,252.5 377.0,252.4 377.5,252.4 378.0,252.3 378.5,252.2 379.0,252.2 379.5,252.1 380.0,252.0 380.5,252.0 381.0,251.9 381.5,251.8 382.0,251.7 382.5,251.5 383.0,251.4 383.5,251.1 384.0,250.7 384.5,250.3 385.0,249.9 385.5,249.6 386.0,249.3 386.5,249.0 387.0,248.7 387.5,248.4 388.0,248.0 388.5,247.6 389.0,247.1 389.5,246.6 390.0,246.1 390.5,245.5 391.0,244.9 391.5,244.3 392.0,243.6 392.5,242.8 393.0,241.9 393.6,240.4 394.2,238.5 394.8,236.6 395.4,234.0 395.8,230.7 396.2,227.1 396.8,223.8 397.4,220.9 398.0,217.8 398.6,214.8 399.0,212.9 399.5,211.0 399.9,208.6 400.5,202.4 401.1,198.6 401.7,195.0 402.3,190.1 403.0,182.1 403.5,179.9 404.0,178.9 404.5,179.1 405.0,179.7 405.5,182.4 406.0,186.9 406.7,195.0 407.3,202.4 407.9,206.5 408.5,209.8 408.9,212.3 409.4,214.7 409.8,217.2 410.4,220.9 411.0,224.6 411.6,228.0 412.2,230.8 412.7,232.3 413.1,233.6 413.6,234.7 414.1,235.7 414.6,236.7 415.1,237.6 415.5,238.3 416.0,239.0 416.5,239.6 417.0,240.3 417.5,240.9 418.0,241.4 418.5,241.9 419.0,242.3 419.5,242.5 420.0,242.6 420.5,242.6 421.0,242.6 421.5,242.5 422.0,242.5 422.5,242.3 423.0,241.9 423.5,241.4 424.0,240.7 424.5,239.9 425.0,239.0 425.5,238.0 426.0,236.6 426.5,234.9 427.0,233.1 427.5,231.1 428.0,229.0 428.5,226.7 429.0,224.0 429.5,221.0 430.0,218.0 430.5,214.4 431.0,210.2 431.5,206.6 432.0,204.5 432.5,203.6 433.0,202.8 433.5,202.3 434.0,202.1 434.5,202.9 435.0,204.9 435.5,207.5 436.0,210.0 436.5,212.3 437.0,214.9 437.5,217.5 438.0,220.0 438.5,222.8 439.0,225.7 439.5,228.2 440.0,229.6 440.5,230.1 441.0,230.4 441.5,230.7 442.0,230.9 442.5,231.1 443.0,231.3 443.5,231.4 444.0,231.5 444.5,231.4 445.0,231.3 445.5,231.1 446.0,230.9 446.5,230.6 447.0,230.2 447.5,229.8 448.0,229.4 448.5,228.9 449.0,228.4 449.5,227.9 450.0,227.4 450.5,227.0 451.0,226.9 451.5,227.1 452.0,227.5 452.5,228.0 453.0,228.6 453.5,229.2 454.0,230.0 454.5,230.8 455.0,231.5 455.5,232.1 456.0,232.6 456.5,233.1 457.0,233.6 457.5,234.1 458.0,234.6 458.5,235.1 459.0,235.7 459.5,236.2 460.0,236.7 460.5,237.2 461.0,237.7 461.5,238.1 462.0,238.6 462.5,239.0 463.0,239.4 463.5,239.7 464.0,240.1 464.5,240.5 465.0,240.9 465.5,241.3 466.0,241.7 466.5,241.9 467.0,242.0 467.5,241.7 468.0,240.9 468.5,239.5 469.0,234.6 469.5,233.8 470.0,233.3 470.5,233.0 471.0,232.7 471.5,232.4 472.0,232.1 472.5,231.8 473.0,231.5 473.5,231.0 474.0,230.5 474.5,229.8 475.0,229.0 475.5,227.9 476.0,226.6 476.5,225.2 477.0,224.1 477.5,223.4 478.0,222.9 478.5,222.4 479.0,221.6 479.5,220.3 480.0,218.5 480.5,216.2 481.0,213.6 481.5,211.2 482.0,208.6 482.5,205.1 483.0,202.0 483.5,199.9 484.0,198.9 484.5,198.9 485.0,198.9 485.5,200.4 486.0,202.0 486.5,201.9 487.0,201.6 487.5,201.2 488.0,200.7 488.5,199.8 489.0,198.3 489.4,196.2 489.9,193.2 490.3,190.0 491.0,184.4 491.2,170.0 491.3,160.0 491.6,154.5 492.1,154.5 492.5,154.5 493.0,154.5 493.5,154.5 494.0,154.5 494.4,154.5 494.9,154.5 495.2,160.0 495.3,175.0 495.4,183.0 496.0,185.7 496.5,192.4 497.0,200.6 497.5,206.7 498.0,212.0 498.5,216.8 499.0,221.0 499.5,225.0 500.0,228.0 500.5,229.8 501.0,231.3 501.5,232.4 502.0,232.8 502.5,232.4 503.0,231.3 503.5,230.0 504.0,228.7 504.5,227.6 505.0,227.2 505.5,227.3 506.0,227.7 506.5,228.3 507.0,228.9 507.5,229.6 508.0,230.2 508.5,231.0 509.0,231.9 509.5,232.8 510.0,233.1 510.5,232.9 511.0,232.3 511.5,231.7 512.0,231.1 512.5,230.5 513.0,229.9 513.5,229.4 514.0,229.2 514.5,229.5 515.0,230.1 515.5,230.9 516.0,231.5 516.5,231.9 517.0,232.3 517.5,232.7 518.0,233.0 518.5,233.3 519.0,233.5 519.5,233.7 520.0,233.9 520.5,234.0 521.0,234.1 521.5,233.7 522.0,232.6 522.5,231.0 523.0,229.2 523.5,226.3 524.0,223.2 524.5,221.1 525.0,219.2 525.5,217.8 526.0,217.3 526.5,217.6 527.0,218.1 527.5,218.8 528.0,219.3 528.5,219.6 529.0,220.0 529.5,220.2 530.0,220.3 530.5,220.1 531.0,219.5 531.5,218.8 532.0,218.3 532.5,217.9 533.0,217.6 533.5,217.3 534.0,217.0 534.5,216.7 535.0,216.3 535.5,215.9 536.0,215.4 536.5,215.0 537.0,214.5 537.5,213.9 538.0,213.4 538.5,212.8 539.0,212.1 539.5,211.3 540.0,210.6 540.5,209.9 541.0,209.4 541.5,209.0 542.0,208.6 542.5,208.3 542.9,208.0 543.4,207.7 543.9,207.4"/>
<polyline fill="none" stroke="#3d8ff5" stroke-width="1.7" stroke-linejoin="round" stroke-linecap="round" points="29.6,210.4 30.1,210.4 30.6,210.4 31.1,210.4 31.6,210.4 32.1,210.4 32.6,210.4 33.1,210.4 33.6,210.4 34.1,210.5 34.6,210.5 35.0,210.5 35.5,210.5 36.0,210.5 36.5,210.5 37.0,210.5 37.5,210.5 38.0,210.5 38.5,210.5 39.0,210.5 39.5,210.5 40.0,210.5 40.5,210.5 41.0,210.5 41.5,210.5 42.0,210.5 42.5,210.5 43.0,210.5 43.5,210.5 44.0,210.5 44.5,210.5 45.0,210.5 45.5,210.5 46.0,210.5 46.5,210.5 47.0,210.5 47.5,210.5 48.0,210.5 48.5,210.5 49.0,210.5 49.5,210.5 50.0,210.5 50.5,210.5 51.0,210.5 51.5,210.5 52.0,210.5 52.5,210.5 53.0,210.6 53.5,210.6 54.0,210.6 54.5,210.6 55.0,210.7 55.5,210.7 56.0,210.7 56.5,210.7 57.0,210.7 57.5,210.8 58.0,210.8 58.5,210.8 59.0,210.8 59.5,210.8 60.0,210.8 60.5,210.8 61.0,210.8 61.5,210.8 62.0,210.8 62.5,210.8 63.0,210.8 63.5,210.8 64.0,210.8 64.5,210.8 65.0,210.8 65.5,210.8 66.0,210.7 66.5,210.7 67.0,210.6 67.5,210.6 68.0,210.5 68.5,210.4 69.0,210.4 69.5,210.3 70.0,210.3 70.5,210.3 71.0,210.3 71.5,210.3 72.0,210.4 72.5,210.4 73.0,210.4 73.5,210.5 74.0,210.5 74.5,210.5 75.0,210.5 75.5,210.5 76.0,210.5 76.5,210.5 77.0,210.4 77.5,210.4 78.0,210.4 78.5,210.3 79.0,210.3 79.5,210.2 80.0,210.2 80.5,210.1 81.0,210.1 81.5,210.0 82.0,209.9 82.5,209.7 83.0,209.6 83.5,209.5 84.0,209.3 84.5,209.2 85.0,209.0 85.5,208.8 86.0,208.6 86.5,208.4 87.0,208.2 87.5,207.9 88.0,207.7 88.5,207.4 89.0,207.1 89.5,206.9 90.0,206.6 90.5,206.3 91.0,206.1 91.5,205.8 92.0,205.5 92.5,205.2 93.0,204.9 93.5,204.6 94.0,204.3 94.5,204.0 95.0,203.7 95.5,203.4 96.0,203.1 96.5,202.8 97.0,202.5 97.5,202.2 98.0,201.9 98.5,201.6 99.0,201.3 99.5,201.0 100.0,200.7 100.5,200.4 101.0,200.1 101.5,199.8 102.0,199.6 102.5,199.3 103.0,199.0 103.5,198.7 104.0,198.4 104.5,198.1 105.0,197.8 105.5,197.5 106.0,197.3 106.5,197.0 107.0,196.7 107.5,196.5 108.0,196.2 108.5,196.0 109.0,195.7 109.5,195.5 110.0,195.3 110.5,195.1 111.0,194.9 111.5,194.7 112.0,194.5 112.5,194.3 113.0,194.1 113.5,193.9 114.0,193.7 114.5,193.5 115.0,193.4 115.5,193.2 116.0,193.0 116.5,192.8 117.0,192.7 117.5,192.5 118.0,192.4 118.5,192.2 119.0,192.1 119.5,191.9 120.0,191.8 120.5,191.7 121.0,191.5 121.5,191.4 122.0,191.3 122.5,191.1 123.0,191.0 123.5,190.9 124.0,190.7 124.5,190.6 125.0,190.5 125.5,190.4 126.0,190.3 126.5,190.2 127.0,190.1 127.5,190.0 128.0,189.9 128.5,189.8 129.0,189.7 129.5,189.7 130.0,189.6 130.5,189.5 131.0,189.5 131.5,189.4 132.0,189.4 132.5,189.3 133.0,189.3 133.5,189.2 134.0,189.1 134.5,189.1 135.0,189.1 135.5,189.0 136.0,189.0 136.5,188.9 137.0,188.9 137.5,188.9 138.0,188.8 138.5,188.8 139.0,188.8 139.5,188.8 140.0,188.8 140.5,188.8 141.0,188.8 141.5,188.8 142.0,188.8 142.5,188.8 143.0,188.9 143.5,188.9 144.0,188.9 144.5,188.9 145.0,188.9 145.5,189.0 146.0,189.0 146.5,189.0 147.0,189.1 147.5,189.1 148.0,189.1 148.5,189.1 149.0,189.2 149.5,189.2 150.0,189.2 150.5,189.2 151.0,189.2 151.5,189.3 152.0,189.3 152.5,189.3 153.0,189.3 153.5,189.3 154.0,189.3 154.5,189.4 155.0,189.4 155.5,189.5 156.0,189.6 156.5,189.7 157.0,189.8 157.5,190.0 158.0,190.2 158.5,190.4 159.0,190.6 159.5,190.8 160.0,191.0 160.5,191.2 161.0,191.4 161.5,191.6 162.0,191.8 162.5,192.0 163.0,192.3 163.5,192.5 164.0,192.7 164.5,193.0 165.0,193.2 165.5,193.4 166.0,193.7 166.5,193.9 167.0,194.2 167.5,194.4 168.0,194.7 168.5,195.0 169.0,195.2 169.5,195.5 170.0,195.7 170.5,195.9 171.0,196.2 171.5,196.4 172.0,196.6 172.5,196.9 173.0,197.1 173.5,197.3 174.0,197.5 174.5,197.7 175.0,197.9 175.5,198.1 176.0,198.2 176.5,198.4 177.0,198.5 177.5,198.7 178.0,198.8 178.5,199.0 179.0,199.1 179.5,199.3 180.0,199.4 180.5,199.5 181.0,199.7 181.5,199.8 182.0,200.0 182.5,200.1 183.0,200.2 183.5,200.4 184.0,200.5 184.5,200.7 185.0,200.8 185.5,201.0 186.0,201.2 186.5,201.4 187.0,201.5 187.5,201.7 188.0,201.7 188.5,201.7 189.0,201.6 189.5,201.5 190.0,201.4 190.5,201.2 191.0,201.1 191.5,200.9 192.0,200.8 192.5,200.7 193.0,200.5 193.5,200.4 194.0,200.2 194.5,200.1 195.0,200.1 195.5,200.1 196.0,200.2 196.5,200.4 197.0,200.5 197.5,200.7 198.0,200.8 198.5,200.9 199.0,201.0 199.5,201.1 200.0,201.3 200.5,201.4 201.0,201.5 201.5,201.6 202.0,201.7 202.5,201.8 203.0,201.9 203.5,202.0 204.0,202.2 204.5,202.3 205.0,202.4 205.5,202.5 206.0,202.6 206.5,202.7 207.0,202.8 207.5,202.9 208.0,203.0 208.5,203.0 209.0,203.1 209.5,203.2 210.0,203.3 210.5,203.3 211.0,203.4 211.5,203.5 212.0,203.5 212.5,203.6 213.0,203.7 213.5,203.7 214.0,203.8 214.5,203.8 215.0,203.9 215.5,204.0 216.0,204.0 216.5,204.1 217.0,204.1 217.5,204.2 218.0,204.2 218.5,204.2 219.0,204.3 219.5,204.3 220.0,204.4 220.5,204.4 221.0,204.5 221.5,204.5 222.0,204.5 222.5,204.6 223.0,204.6 223.5,204.7 224.0,204.7 224.5,204.8 225.0,204.8 225.5,204.8 226.0,204.9 226.5,204.9 227.0,205.0 227.5,205.0 228.0,205.1 228.5,205.1 229.0,205.2 229.5,205.2 230.0,205.3 230.5,205.3 231.0,205.3 231.5,205.4 232.0,205.4 232.5,205.5 233.0,205.5 233.5,205.6 234.0,205.6 234.5,205.7 235.0,205.7 235.5,205.7 236.0,205.8 236.5,205.8 237.0,205.9 237.5,205.9 238.0,206.0 238.5,206.0 239.0,206.0 239.5,206.1 240.0,206.1 240.5,206.2 241.0,206.2 241.5,206.3 242.0,206.3 242.5,206.3 243.0,206.4 243.5,206.4 244.0,206.5 244.5,206.5 245.0,206.5 245.5,206.6 246.0,206.6 246.5,206.7 247.0,206.7 247.5,206.7 248.0,206.8 248.5,206.8 249.0,206.8 249.5,206.9 250.0,206.9 250.5,206.9 251.0,207.0 251.5,207.0 252.0,207.0 252.5,207.1 253.0,207.1 253.5,207.1 254.0,207.2 254.5,207.2 255.0,207.2 255.5,207.3 256.0,207.3 256.5,207.4 257.0,207.4 257.5,207.4 258.0,207.5 258.5,207.5 259.0,207.5 259.5,207.6 260.0,207.6 260.5,207.6 261.0,207.7 261.5,207.7 262.0,207.7 262.5,207.8 263.0,207.8 263.5,207.8 264.0,207.9 264.5,207.9 265.0,207.9 265.5,207.9 266.0,208.0 266.5,208.0 267.0,208.0 267.5,208.1 268.0,208.1 268.5,208.1 269.0,208.1 269.5,208.1 270.0,208.2 270.5,208.2 271.0,208.2 271.5,208.2 272.0,208.2 272.5,208.2 273.0,208.3 273.5,208.3 274.0,208.3 274.5,208.3 275.0,208.3 275.5,208.3 276.0,208.3 276.5,208.3 277.0,208.3 277.5,208.3 278.0,208.3 278.5,208.3 279.0,208.3 279.5,208.4 280.0,208.4 280.5,208.4 281.0,208.4 281.5,208.4 282.0,208.4 282.5,208.4 283.0,208.4 283.5,208.4 284.0,208.4 284.5,208.4 285.0,208.4 285.5,208.4 286.0,208.4 286.5,208.4 287.0,208.4 287.5,208.4 288.0,208.4 288.5,208.4 289.0,208.4 289.5,208.4 290.0,208.4 290.5,208.4 291.0,208.4 291.5,208.4 292.0,208.4 292.5,208.4 293.0,208.4 293.5,208.4 294.0,208.4 294.5,208.4 295.0,208.4 295.5,208.5 296.0,208.5 296.5,208.5 297.0,208.5 297.5,208.5 298.0,208.5 298.5,208.5 299.0,208.5 299.5,208.5 300.0,208.5 300.5,208.5 301.0,208.5 301.5,208.5 302.0,208.5 302.5,208.5 303.0,208.6 303.5,208.6 304.0,208.6 304.5,208.6 305.0,208.6 305.5,208.6 306.0,208.6 306.5,208.6 307.0,208.7 307.5,208.7 308.0,208.7 308.5,208.7 309.0,208.7 309.5,208.7 310.0,208.8 310.5,208.8 311.0,208.8 311.5,208.8 312.0,208.8 312.5,208.9 313.0,208.9 313.5,208.9 314.0,208.9 314.5,208.9 315.0,208.9 315.5,209.0 316.0,209.0 316.5,209.0 317.0,209.0 317.5,209.0 318.0,209.0 318.5,209.1 319.0,209.1 319.5,209.1 320.0,209.1 320.5,209.1 321.0,209.1 321.5,209.1 322.0,209.2 322.5,209.2 323.0,209.2 323.5,209.2 324.0,209.2 324.5,209.2 325.0,209.3 325.5,209.3 326.0,209.3 326.5,209.3 327.0,209.3 327.5,209.3 328.0,209.4 328.5,209.4 329.0,209.4 329.5,209.4 330.0,209.4 330.5,209.4 331.0,209.4 331.5,209.5 332.0,209.5 332.5,209.5 333.0,209.5 333.5,209.5 334.0,209.5 334.5,209.5 335.0,209.5 335.5,209.6 336.0,209.6 336.5,209.6 337.0,209.6 337.5,209.6 338.0,209.6 338.5,209.6 339.0,209.6 339.5,209.6 340.0,209.6 340.5,209.6 341.0,209.6 341.5,209.6 342.0,209.6 342.5,209.6 343.0,209.6 343.5,209.6 344.0,209.6 344.5,209.6 345.0,209.6 345.5,209.6 346.0,209.6 346.5,209.6 347.0,209.5 347.5,209.5 348.0,209.5 348.5,209.5 349.0,209.5 349.5,209.5 350.0,209.5 350.5,209.5 351.0,209.5 351.5,209.5 352.0,209.5 352.5,209.5 353.0,209.4 353.5,209.4 354.0,209.4 354.5,209.4 355.0,209.4 355.5,209.4 356.0,209.4 356.5,209.4 357.0,209.4 357.5,209.4 358.0,209.3 358.5,209.3 359.0,209.3 359.5,209.3 360.0,209.3 360.5,209.3 361.0,209.3 361.5,209.3 362.0,209.3 362.5,209.2 363.0,209.2 363.5,209.2 364.0,209.2 364.5,209.2 365.0,209.2 365.5,209.2 366.0,209.2 366.5,209.1 367.0,209.1 367.5,209.1 368.0,209.1 368.5,209.1 369.0,209.0 369.5,209.0 370.0,209.0 370.5,209.0 371.0,208.9 371.5,208.9 372.0,208.9 372.5,208.8 373.0,208.8 373.5,208.7 374.0,208.6 374.5,208.6 375.0,208.5 375.5,208.4 376.0,208.4 376.5,208.3 377.0,208.2 377.5,208.2 378.0,208.1 378.5,208.0 379.0,208.0 379.5,207.9 380.0,207.8 380.5,207.7 381.0,207.7 381.5,207.6 382.0,207.5 382.5,207.4 383.0,207.4 383.5,207.3 384.0,207.2 384.5,207.0 385.0,206.7 385.5,206.3 386.0,205.9 386.5,205.5 387.0,205.1 387.5,204.7 388.0,204.2 388.5,203.7 389.0,203.2 389.5,202.6 390.0,202.0 390.5,201.4 391.0,200.8 391.5,200.1 392.0,199.4 392.5,198.7 393.0,198.0 393.5,197.3 394.0,196.4 394.5,195.4 395.0,194.3 395.5,193.0 396.0,191.7 396.5,190.3 397.0,188.7 397.5,187.0 398.0,185.3 398.5,183.5 399.0,181.5 399.5,179.4 400.0,177.3 400.5,175.0 401.0,172.7 401.5,170.2 402.0,167.6 402.5,164.7 403.0,162.0 403.5,159.4 404.0,158.0 404.5,158.0 405.0,158.0 405.5,160.1 406.0,163.6 406.5,166.4 407.0,169.3 407.5,172.6 408.0,175.7 408.5,178.1 409.0,180.1 409.5,182.0 410.0,183.7 410.5,185.3 411.0,186.7 411.5,188.1 412.0,189.3 412.5,190.4 413.0,191.4 413.5,192.4 414.0,193.3 414.5,194.2 415.0,195.0 415.5,195.8 416.0,196.5 416.5,197.1 417.0,197.8 417.5,198.4 418.0,198.9 418.5,199.3 419.0,199.7 419.5,200.0 420.0,200.3 420.5,200.6 421.0,200.8 421.5,200.9 422.0,201.0 422.5,200.9 423.0,200.7 423.5,200.4 424.0,199.9 424.5,199.4 425.0,198.9 425.5,198.2 426.0,197.2 426.5,196.1 427.0,194.9 427.5,193.6 428.0,192.0 428.5,190.3 429.0,188.5 429.5,186.5 430.0,184.2 430.5,181.8 431.0,179.7 431.5,177.7 432.0,175.6 432.5,173.9 433.0,172.5 433.5,171.4 434.0,170.9 434.5,172.1 435.0,174.1 435.5,176.1 436.0,178.2 436.5,180.3 437.0,182.1 437.5,183.5 438.0,184.6 438.5,185.7 439.0,186.9 439.5,188.4 440.0,189.6 440.5,190.1 441.0,190.4 441.5,190.7 442.0,190.9 442.5,191.1 443.0,191.3 443.5,191.4 444.0,191.5 444.5,191.4 445.0,191.3 445.5,191.1 446.0,190.9 446.5,190.6 447.0,190.3 447.5,189.9 448.0,189.6 448.5,189.2 449.0,188.9 449.5,188.5 450.0,188.1 450.5,187.9 451.0,187.8 451.5,187.9 452.0,188.2 452.5,188.6 453.0,189.0 453.5,189.5 454.0,190.2 454.5,190.9 455.0,191.5 455.5,192.0 456.0,192.4 456.5,192.8 457.0,193.2 457.5,193.6 458.0,194.0 458.5,194.4 459.0,194.8 459.5,195.2 460.0,195.6 460.5,196.0 461.0,196.4 461.5,196.8 462.0,197.2 462.5,197.5 463.0,197.9 463.5,198.2 464.0,198.5 464.5,198.8 465.0,199.1 465.5,199.4 466.0,199.6 466.5,199.7 467.0,199.8 467.5,199.3 468.0,198.2 468.5,196.9 469.0,195.8 469.5,195.1 470.0,194.4 470.5,193.8 471.0,193.3 471.5,192.8 472.0,192.4 472.5,192.0 473.0,191.5 473.5,191.0 474.0,190.4 474.5,189.7 475.0,189.0 475.5,188.0 476.0,186.7 476.5,185.5 477.0,184.7 477.5,184.4 478.0,184.1 478.5,183.9 479.0,183.5 479.5,182.0 480.0,179.8 480.5,178.0 481.0,176.0 481.5,173.4 482.0,171.1 482.5,169.4 483.0,168.6 483.5,168.6 484.0,168.6 484.5,168.6 485.0,168.6 485.5,169.1 486.0,169.5 486.5,169.4 487.0,169.0 487.5,168.6 488.0,168.0 488.5,167.3 489.0,166.0 489.6,161.0 490.0,159.0 490.5,155.5 491.0,151.0 491.7,142.0 492.2,139.5 492.7,139.5 493.2,139.5 493.7,139.5 494.2,139.5 494.8,144.6 495.4,148.0 496.0,151.0 496.5,153.5 497.1,156.0 497.6,159.0 498.1,162.5 498.5,167.0 498.9,172.7 499.3,178.0 499.9,182.7 500.5,186.0 501.1,188.9 501.7,190.4 502.2,189.9 502.8,189.0 503.3,188.0 503.9,187.1 504.4,186.1 504.9,185.3 505.5,185.0 506.0,185.2 506.5,185.6 507.0,186.2 507.5,187.0 508.0,187.7 508.5,188.7 509.0,190.0 509.5,191.1 510.0,191.6 510.5,191.5 511.0,191.3 511.5,191.0 512.0,190.6 512.5,189.9 513.0,189.0 513.5,188.1 514.0,187.7 514.5,187.8 515.0,188.0 515.5,188.4 516.0,188.7 516.5,189.1 517.0,189.6 517.5,190.2 518.0,190.6 518.5,190.9 519.0,191.3 519.5,191.5 520.0,191.6 520.5,191.6 521.0,191.6 521.5,191.6 522.0,191.6 522.5,191.1 523.0,189.7 523.5,187.8 524.0,185.7 524.5,182.6 525.0,179.8 525.5,178.7 526.0,178.2 526.5,178.6 527.0,179.5 527.5,180.4 528.0,180.8 528.5,180.8 529.0,180.8 529.5,180.8 530.0,180.8 530.5,180.7 531.0,180.4 531.5,180.1 532.0,179.8 532.5,179.5 533.0,179.2 533.5,178.8 534.0,178.5 534.5,178.1 535.0,177.8 535.5,177.5 536.0,177.2 536.5,176.9 537.0,176.5 537.5,176.2 538.0,175.8 538.5,175.4 539.0,174.8 539.5,174.3 540.0,173.8 540.5,173.2 541.0,172.8 541.5,172.4 542.0,172.1 542.5,171.8 542.9,171.5 543.4,171.2 543.9,170.9"/>
<rect x="29.6" y="6.0" width="514.3" height="343.7" fill="none" stroke="#000" stroke-width="1.5"/>
<path d="M29.60 349.7v4.6 M45.18 349.7v2.8 M60.77 349.7v2.8 M76.35 349.7v2.8 M91.94 349.7v2.8 M107.52 349.7v4.6 M123.11 349.7v2.8 M138.69 349.7v2.8 M154.28 349.7v2.8 M169.86 349.7v2.8 M185.45 349.7v4.6 M201.03 349.7v2.8 M216.62 349.7v2.8 M232.20 349.7v2.8 M247.79 349.7v2.8 M263.37 349.7v4.6 M278.96 349.7v2.8 M294.54 349.7v2.8 M310.13 349.7v2.8 M325.71 349.7v2.8 M341.30 349.7v4.6 M356.88 349.7v2.8 M372.47 349.7v2.8 M388.05 349.7v2.8 M403.64 349.7v2.8 M419.22 349.7v4.6 M434.81 349.7v2.8 M450.39 349.7v2.8 M465.98 349.7v2.8 M481.56 349.7v2.8 M497.15 349.7v4.6 M512.73 349.7v2.8 M528.32 349.7v2.8" stroke="#000" stroke-width="1.4" fill="none"/>
<text x="29.4" y="367.9" font-size="11.4" text-anchor="middle">4000</text>
<text x="107.3" y="367.9" font-size="11.4" text-anchor="middle">3500</text>
<text x="185.2" y="367.9" font-size="11.4" text-anchor="middle">3000</text>
<text x="263.2" y="367.9" font-size="11.4" text-anchor="middle">2500</text>
<text x="341.1" y="367.9" font-size="11.4" text-anchor="middle">2000</text>
<text x="419.0" y="367.9" font-size="11.4" text-anchor="middle">1500</text>
<text x="496.9" y="367.9" font-size="11.4" text-anchor="middle">1000</text>
<line x1="32.1" y1="16.3" x2="42.9" y2="16.3" stroke="#a0a0a0" stroke-width="1.7"/>
<text x="49.2" y="20.9" font-size="11.8" textLength="12.1" lengthAdjust="spacingAndGlyphs">P0</text>
<line x1="125.4" y1="16.3" x2="136.2" y2="16.3" stroke="#ff0000" stroke-width="1.7"/>
<text x="142.79999999999998" y="20.9" font-size="11.8" textLength="11.6" lengthAdjust="spacingAndGlyphs">P1</text>
<line x1="220.4" y1="16.3" x2="231.2" y2="16.3" stroke="#0000ff" stroke-width="1.7"/>
<text x="237.79999999999998" y="20.9" font-size="11.8" textLength="12.3" lengthAdjust="spacingAndGlyphs">P2</text>
<line x1="312" y1="16.3" x2="322.8" y2="16.3" stroke="#800080" stroke-width="1.7"/>
<text x="329.7" y="20.9" font-size="11.8" textLength="12.1" lengthAdjust="spacingAndGlyphs">P3</text>
<line x1="404.8" y1="16.3" x2="415.6" y2="16.3" stroke="#008000" stroke-width="1.7"/>
<text x="422.5" y="20.9" font-size="11.8" textLength="11.9" lengthAdjust="spacingAndGlyphs">P4</text>
<line x1="504" y1="16.3" x2="514.8" y2="16.3" stroke="#3d8ff5" stroke-width="1.7"/>
<text x="521.1" y="20.9" font-size="11.8" textLength="12.3" lengthAdjust="spacingAndGlyphs">P5</text>
<text x="132.3" y="129.8" font-size="10.6" text-anchor="middle">OH−stretch, H−bonded</text>
<text x="132.3" y="143" font-size="10.2" text-anchor="middle">C−H stretch</text>
<text x="206.8" y="188.6" font-size="10.2" text-anchor="middle">C−H stretch</text>
<text x="399.6" y="119.3" font-size="10.2" text-anchor="middle">C−C stretch,</text>
<text x="399.6" y="132.6" font-size="10.2" text-anchor="middle">C=O stretch</text>
<text x="443.7" y="153.8" font-size="10.2" text-anchor="middle">C−H stretch</text>
<text x="497.7" y="119.2" font-size="10.2" text-anchor="middle">C−O stretch</text>
<text x="219" y="398.6" font-size="15">Wavenumbers (cm<tspan font-size="10" dx="0.8" dy="-6.6">−1</tspan><tspan dx="1.5" dy="6.6">)</tspan></text>
<text transform="translate(13.9,181.35) rotate(-90) scale(1,1.08)" x="0" y="0" font-size="14.8" text-anchor="middle">Absorbance</text>
</svg></body></html>
